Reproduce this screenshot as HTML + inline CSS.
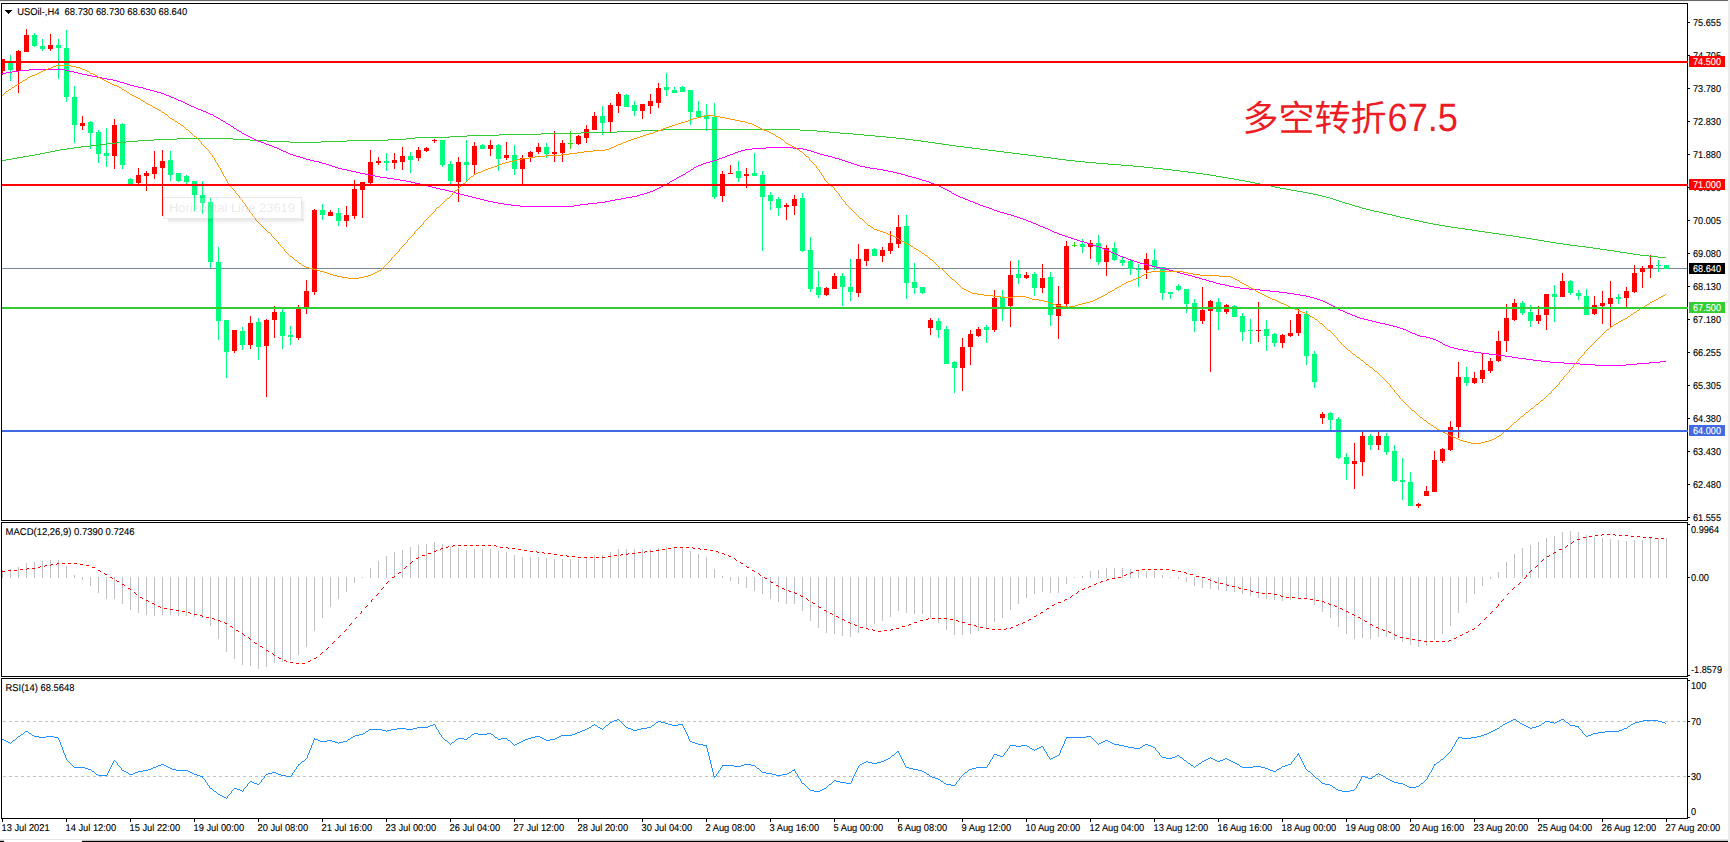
<!DOCTYPE html>
<html lang="zh"><head><meta charset="utf-8"><title>USOil-,H4</title>
<style>html,body{margin:0;padding:0;background:#fff;overflow:hidden}svg{display:block}text{font-family:"Liberation Sans","Noto Sans CJK SC",sans-serif;text-rendering:geometricPrecision;font-size:9.9px;fill:#000;stroke:#000;stroke-width:0.12px}.w{fill:#fff;stroke:#fff}.big{font-size:36px;fill:#ed1c24;stroke:none}.tip{font-size:12.5px;fill:#1a1a2a;fill-opacity:0.11;stroke:none}</style></head><body>
<svg width="1730" height="842" viewBox="0 0 1730 842">
<rect width="1730" height="842" fill="#fff"/>
<g shape-rendering="crispEdges">
<rect x="0" y="0" width="1728" height="1" fill="#696969"/>
<rect x="0" y="1" width="1728" height="1" fill="#f3f3f3"/>
<rect x="1728" y="0" width="2" height="842" fill="#ececec"/>
<rect x="0" y="839" width="1728" height="1" fill="#e4e4e4"/>
<rect x="0" y="840" width="4" height="1" fill="#c4c4c4"/><rect x="0" y="841" width="4" height="1" fill="#000"/>
<rect x="82" y="840" width="1646" height="1" fill="#c4c4c4"/><rect x="82" y="841" width="1646" height="1" fill="#000"/>
</g>
<g shape-rendering="crispEdges">
<rect x="2" y="268" width="1685" height="1" fill="#778899"/>
<path fill="#00ff7f" d="M10 55h1v26h-1zM8 63h5v7h-5zM34 33h1v14h-1zM32 35h5v11h-5zM42 39h1v12h-1zM40 46h5v3h-5zM58 39h1v40h-1zM56 45h5v3h-5zM66 30h1v72h-1zM64 48h5v49h-5zM74 86h1v57h-1zM72 97h5v28h-5zM90 121h1v28h-1zM88 122h5v11h-5zM98 130h1v33h-1zM96 132h5v22h-5zM106 128h1v39h-1zM104 153h5v3h-5zM122 123h1v46h-1zM120 124h5v41h-5zM130 178h1v8h-1zM128 179h5v7h-5zM170 151h1v30h-1zM168 160h5v15h-5zM178 173h1v9h-1zM176 173h5v8h-5zM186 175h1v9h-1zM184 176h5v6h-5zM194 181h1v30h-1zM192 181h5v14h-5zM202 181h1v33h-1zM200 195h5v8h-5zM210 198h1v70h-1zM208 202h5v60h-5zM218 247h1v93h-1zM216 262h5v59h-5zM226 320h1v58h-1zM224 320h5v32h-5zM242 327h1v23h-1zM240 331h5v14h-5zM258 318h1v42h-1zM256 322h5v25h-5zM282 308h1v41h-1zM280 312h5v24h-5zM290 326h1v19h-1zM288 335h5v2h-5zM322 204h1v16h-1zM320 210h5v5h-5zM338 208h1v18h-1zM336 213h5v8h-5zM386 153h1v18h-1zM384 161h5v2h-5zM410 152h1v21h-1zM408 156h5v4h-5zM442 140h1v27h-1zM440 140h5v25h-5zM450 161h1v23h-1zM448 164h5v17h-5zM466 140h1v42h-1zM464 162h5v3h-5zM482 144h1v5h-1zM480 145h5v4h-5zM498 144h1v27h-1zM496 145h5v14h-5zM514 145h1v30h-1zM512 155h5v14h-5zM546 143h1v15h-1zM544 147h5v7h-5zM602 106h1v29h-1zM600 116h5v7h-5zM626 94h1v13h-1zM624 95h5v12h-5zM634 101h1v15h-1zM632 105h5v6h-5zM666 73h1v23h-1zM664 87h5v3h-5zM674 87h1v6h-1zM672 90h5v3h-5zM682 86h1v6h-1zM680 87h5v5h-5zM690 90h1v35h-1zM688 90h5v22h-5zM698 101h1v16h-1zM696 111h5v6h-5zM706 104h1v27h-1zM704 115h5v4h-5zM714 103h1v96h-1zM712 117h5v80h-5zM738 161h1v21h-1zM736 171h5v7h-5zM754 153h1v23h-1zM752 173h5v3h-5zM762 171h1v80h-1zM760 175h5v22h-5zM770 192h1v18h-1zM768 195h5v6h-5zM778 197h1v19h-1zM776 199h5v9h-5zM802 193h1v59h-1zM800 198h5v53h-5zM810 237h1v55h-1zM808 250h5v39h-5zM818 271h1v27h-1zM816 287h5v8h-5zM842 273h1v33h-1zM840 276h5v11h-5zM850 259h1v42h-1zM848 287h5v5h-5zM874 248h1v8h-1zM872 249h5v7h-5zM906 215h1v84h-1zM904 226h5v57h-5zM914 263h1v31h-1zM912 282h5v6h-5zM922 287h1v7h-1zM920 287h5v6h-5zM938 318h1v20h-1zM936 321h5v9h-5zM946 326h1v38h-1zM944 329h5v35h-5zM954 361h1v32h-1zM952 362h5v6h-5zM986 325h1v18h-1zM984 327h5v3h-5zM1002 290h1v31h-1zM1000 297h5v12h-5zM1018 260h1v24h-1zM1016 274h5v4h-5zM1034 272h1v24h-1zM1032 274h5v14h-5zM1050 272h1v54h-1zM1048 277h5v38h-5zM1082 239h1v14h-1zM1080 244h5v3h-5zM1098 235h1v30h-1zM1096 243h5v19h-5zM1114 242h1v19h-1zM1112 248h5v12h-5zM1122 257h1v9h-1zM1120 260h5v3h-5zM1130 260h1v15h-1zM1128 261h5v8h-5zM1138 264h1v23h-1zM1136 269h5v1h-5zM1154 249h1v21h-1zM1152 260h5v7h-5zM1162 267h1v33h-1zM1160 267h5v26h-5zM1170 292h1v7h-1zM1168 292h5v2h-5zM1178 284h1v7h-1zM1176 286h5v4h-5zM1186 289h1v24h-1zM1184 289h5v15h-5zM1194 299h1v33h-1zM1192 303h5v18h-5zM1218 298h1v32h-1zM1216 302h5v10h-5zM1234 305h1v12h-1zM1232 306h5v11h-5zM1242 313h1v28h-1zM1240 316h5v16h-5zM1250 319h1v25h-1zM1248 330h5v1h-5zM1266 320h1v31h-1zM1264 329h5v7h-5zM1274 333h1v14h-1zM1272 334h5v9h-5zM1306 311h1v54h-1zM1304 314h5v42h-5zM1314 351h1v37h-1zM1312 354h5v28h-5zM1330 412h1v18h-1zM1328 413h5v7h-5zM1338 417h1v42h-1zM1336 419h5v39h-5zM1346 453h1v27h-1zM1344 457h5v7h-5zM1370 434h1v16h-1zM1368 436h5v9h-5zM1386 433h1v22h-1zM1384 436h5v16h-5zM1394 445h1v37h-1zM1392 451h5v30h-5zM1402 458h1v42h-1zM1400 480h5v2h-5zM1410 472h1v34h-1zM1408 482h5v24h-5zM1466 367h1v19h-1zM1464 377h5v6h-5zM1522 301h1v14h-1zM1520 303h5v10h-5zM1530 305h1v22h-1zM1528 312h5v9h-5zM1554 285h1v37h-1zM1552 294h5v3h-5zM1570 280h1v15h-1zM1568 281h5v12h-5zM1578 290h1v10h-1zM1576 293h5v3h-5zM1586 289h1v26h-1zM1584 296h5v19h-5zM1618 294h1v10h-1zM1616 297h5v2h-5zM1658 260h1v12h-1zM1656 265h5v1h-5zM1666 265h1v4h-1zM1664 265h5v4h-5z"/>
<path fill="#ff0000" d="M2 59h1v16h-1zM2 59h3v12h-3zM18 50h1v43h-1zM16 51h5v20h-5zM26 29h1v23h-1zM24 35h5v17h-5zM50 34h1v17h-1zM48 45h5v4h-5zM82 116h1v14h-1zM80 123h5v3h-5zM114 119h1v50h-1zM112 125h5v31h-5zM138 168h1v16h-1zM136 175h5v8h-5zM146 171h1v20h-1zM144 173h5v3h-5zM154 151h1v28h-1zM152 167h5v7h-5zM162 150h1v66h-1zM160 161h5v7h-5zM234 330h1v23h-1zM232 330h5v21h-5zM250 316h1v33h-1zM248 323h5v22h-5zM266 319h1v78h-1zM264 320h5v26h-5zM274 306h1v32h-1zM272 312h5v8h-5zM298 305h1v35h-1zM296 309h5v29h-5zM306 280h1v34h-1zM304 291h5v17h-5zM314 209h1v86h-1zM312 210h5v82h-5zM330 210h1v6h-1zM328 212h5v4h-5zM346 206h1v21h-1zM344 215h5v6h-5zM354 180h1v39h-1zM352 189h5v27h-5zM362 182h1v36h-1zM360 182h5v8h-5zM370 150h1v34h-1zM368 162h5v21h-5zM378 157h1v8h-1zM376 161h5v2h-5zM394 153h1v16h-1zM392 160h5v3h-5zM402 147h1v23h-1zM400 156h5v6h-5zM418 147h1v14h-1zM416 150h5v8h-5zM426 147h1v5h-1zM424 148h5v3h-5zM434 139h1v4h-1zM432 140h5v1h-5zM458 157h1v45h-1zM456 162h5v20h-5zM474 142h1v32h-1zM472 146h5v19h-5zM490 140h1v16h-1zM488 145h5v4h-5zM506 142h1v18h-1zM504 155h5v3h-5zM522 155h1v29h-1zM520 158h5v11h-5zM530 151h1v11h-1zM528 152h5v5h-5zM538 143h1v11h-1zM536 147h5v5h-5zM554 131h1v31h-1zM552 152h5v2h-5zM562 140h1v22h-1zM560 143h5v10h-5zM578 135h1v10h-1zM576 136h5v8h-5zM586 125h1v18h-1zM584 129h5v9h-5zM594 112h1v18h-1zM592 116h5v14h-5zM610 103h1v29h-1zM608 105h5v17h-5zM618 92h1v21h-1zM616 94h5v12h-5zM642 104h1v15h-1zM640 104h5v7h-5zM650 94h1v20h-1zM648 101h5v5h-5zM658 83h1v25h-1zM656 88h5v15h-5zM722 171h1v31h-1zM720 174h5v22h-5zM730 165h1v9h-1zM728 173h5v1h-5zM746 168h1v20h-1zM744 174h5v2h-5zM786 203h1v17h-1zM784 205h5v2h-5zM794 195h1v20h-1zM792 199h5v7h-5zM826 287h1v9h-1zM824 288h5v7h-5zM834 273h1v16h-1zM832 276h5v13h-5zM858 244h1v53h-1zM856 259h5v34h-5zM866 249h1v17h-1zM864 249h5v12h-5zM882 247h1v15h-1zM880 250h5v6h-5zM890 231h1v23h-1zM888 243h5v8h-5zM898 215h1v33h-1zM896 227h5v17h-5zM930 318h1v17h-1zM928 320h5v8h-5zM962 338h1v53h-1zM960 347h5v21h-5zM970 330h1v35h-1zM968 334h5v13h-5zM978 327h1v10h-1zM976 329h5v7h-5zM994 290h1v42h-1zM992 298h5v32h-5zM1010 261h1v66h-1zM1008 275h5v31h-5zM1026 272h1v7h-1zM1024 275h5v3h-5zM1042 264h1v29h-1zM1040 278h5v10h-5zM1058 286h1v53h-1zM1056 304h5v12h-5zM1066 241h1v66h-1zM1064 246h5v58h-5zM1090 240h1v19h-1zM1088 243h5v4h-5zM1106 245h1v31h-1zM1104 248h5v14h-5zM1146 253h1v26h-1zM1144 259h5v11h-5zM1202 287h1v37h-1zM1200 310h5v11h-5zM1210 300h1v72h-1zM1208 301h5v10h-5zM1226 304h1v10h-1zM1224 305h5v7h-5zM1258 302h1v40h-1zM1256 330h5v1h-5zM1282 334h1v14h-1zM1280 335h5v8h-5zM1290 320h1v17h-1zM1288 333h5v3h-5zM1298 309h1v27h-1zM1296 314h5v19h-5zM1322 412h1v12h-1zM1320 414h5v4h-5zM1354 443h1v46h-1zM1352 461h5v3h-5zM1362 432h1v44h-1zM1360 436h5v26h-5zM1378 432h1v18h-1zM1376 436h5v9h-5zM1418 503h1v5h-1zM1416 504h5v2h-5zM1426 486h1v10h-1zM1424 491h5v5h-5zM1434 451h1v41h-1zM1432 460h5v32h-5zM1442 448h1v15h-1zM1440 449h5v12h-5zM1450 421h1v30h-1zM1448 427h5v23h-5zM1458 362h1v76h-1zM1456 377h5v50h-5zM1474 372h1v12h-1zM1472 378h5v5h-5zM1482 353h1v30h-1zM1480 370h5v9h-5zM1490 358h1v15h-1zM1488 361h5v10h-5zM1498 331h1v31h-1zM1496 341h5v20h-5zM1506 304h1v48h-1zM1504 318h5v23h-5zM1514 299h1v22h-1zM1512 303h5v17h-5zM1538 306h1v18h-1zM1536 315h5v6h-5zM1546 294h1v36h-1zM1544 294h5v21h-5zM1562 273h1v24h-1zM1560 281h5v16h-5zM1594 296h1v19h-1zM1592 305h5v9h-5zM1602 291h1v33h-1zM1600 303h5v3h-5zM1610 281h1v46h-1zM1608 298h5v6h-5zM1626 287h1v20h-1zM1624 291h5v7h-5zM1634 265h1v28h-1zM1632 273h5v19h-5zM1642 266h1v22h-1zM1640 268h5v4h-5zM1650 255h1v23h-1zM1648 265h5v3h-5z"/>
<path fill="#30dd10" d="M570 131h1v18h-1zM568 143h5v1h-5zM1074 242h1v5h-1zM1072 245h5v1h-5z"/>
</g>
<g shape-rendering="crispEdges">
<path fill="#32cd32" d="M2 160h4v1h-4zM6 159h6v1h-6zM12 158h5v1h-5zM17 157h6v1h-6zM23 156h6v1h-6zM29 155h6v1h-6zM35 154h5v1h-5zM40 153h5v1h-5zM45 152h5v1h-5zM50 151h5v1h-5zM55 150h5v1h-5zM60 149h7v1h-7zM67 148h7v1h-7zM74 147h7v1h-7zM81 146h9v1h-9zM90 145h9v1h-9zM99 144h8v1h-8zM107 143h9v1h-9zM116 142h10v1h-10zM126 141h12v1h-12zM138 140h16v1h-16zM154 139h23v1h-23zM177 138h56v1h-56zM233 139h17v1h-17zM250 140h17v1h-17zM267 141h23v1h-23zM290 142h31v1h-31zM321 141h26v1h-26zM347 140h41v1h-41zM388 139h18v1h-18zM406 138h9v1h-9zM415 137h35v1h-35zM450 136h17v1h-17zM467 135h32v1h-32zM499 134h42v1h-42zM541 133h40v1h-40zM581 132h36v1h-36zM617 131h24v1h-24zM641 130h22v1h-22zM663 129h137v1h-137zM800 130h17v1h-17zM817 131h12v1h-12zM829 132h11v1h-11zM840 133h13v1h-13zM853 134h11v1h-11zM864 135h11v1h-11zM875 136h11v1h-11zM886 137h10v1h-10zM896 138h9v1h-9zM905 139h8v1h-8zM913 140h8v1h-8zM921 141h7v1h-7zM928 142h7v1h-7zM935 143h7v1h-7zM942 144h7v1h-7zM949 145h7v1h-7zM956 146h8v1h-8zM964 147h8v1h-8zM972 148h8v1h-8zM980 149h8v1h-8zM988 150h8v1h-8zM996 151h8v1h-8zM1004 152h8v1h-8zM1012 153h8v1h-8zM1020 154h8v1h-8zM1028 155h8v1h-8zM1036 156h7v1h-7zM1043 157h8v1h-8zM1051 158h7v1h-7zM1058 159h8v1h-8zM1066 160h9v1h-9zM1075 161h10v1h-10zM1085 162h11v1h-11zM1096 163h12v1h-12zM1108 164h13v1h-13zM1121 165h12v1h-12zM1133 166h11v1h-11zM1144 167h9v1h-9zM1153 168h10v1h-10zM1163 169h9v1h-9zM1172 170h8v1h-8zM1180 171h8v1h-8zM1188 172h8v1h-8zM1196 173h7v1h-7zM1203 174h7v1h-7zM1210 175h6v1h-6zM1216 176h6v1h-6zM1222 177h6v1h-6zM1228 178h6v1h-6zM1234 179h5v1h-5zM1239 180h6v1h-6zM1245 181h5v1h-5zM1250 182h5v1h-5zM1255 183h5v1h-5zM1260 184h6v1h-6zM1266 185h5v1h-5zM1271 186h4v1h-4zM1275 187h5v1h-5zM1280 188h6v1h-6zM1286 189h5v1h-5zM1291 190h6v1h-6zM1297 191h6v1h-6zM1303 192h5v1h-5zM1308 193h5v1h-5zM1313 194h5v1h-5zM1318 195h4v1h-4zM1322 196h4v1h-4zM1326 197h4v1h-4zM1330 198h3v1h-3zM1333 199h3v1h-3zM1336 200h3v1h-3zM1339 201h3v1h-3zM1342 202h3v1h-3zM1345 203h4v1h-4zM1349 204h3v1h-3zM1352 205h3v1h-3zM1355 206h4v1h-4zM1359 207h3v1h-3zM1362 208h4v1h-4zM1366 209h4v1h-4zM1370 210h4v1h-4zM1374 211h5v1h-5zM1379 212h4v1h-4zM1383 213h4v1h-4zM1387 214h5v1h-5zM1392 215h4v1h-4zM1396 216h4v1h-4zM1400 217h5v1h-5zM1405 218h5v1h-5zM1410 219h4v1h-4zM1414 220h5v1h-5zM1419 221h4v1h-4zM1423 222h5v1h-5zM1428 223h5v1h-5zM1433 224h6v1h-6zM1439 225h6v1h-6zM1445 226h6v1h-6zM1451 227h7v1h-7zM1458 228h7v1h-7zM1465 229h7v1h-7zM1472 230h6v1h-6zM1478 231h7v1h-7zM1485 232h7v1h-7zM1492 233h7v1h-7zM1499 234h7v1h-7zM1506 235h7v1h-7zM1513 236h6v1h-6zM1519 237h7v1h-7zM1526 238h6v1h-6zM1532 239h6v1h-6zM1538 240h6v1h-6zM1544 241h6v1h-6zM1550 242h6v1h-6zM1556 243h7v1h-7zM1563 244h7v1h-7zM1570 245h8v1h-8zM1578 246h8v1h-8zM1586 247h7v1h-7zM1593 248h7v1h-7zM1600 249h7v1h-7zM1607 250h7v1h-7zM1614 251h6v1h-6zM1620 252h7v1h-7zM1627 253h6v1h-6zM1633 254h7v1h-7zM1640 255h9v1h-9zM1649 256h9v1h-9zM1658 257h8v1h-8z"/>
<path fill="#ff00ff" d="M2 73h4v1h-4zM6 72h6v1h-6zM12 71h7v1h-7zM19 70h10v1h-10zM29 69h36v1h-36zM65 70h4v1h-4zM69 71h5v1h-5zM74 72h4v1h-4zM78 73h4v1h-4zM82 74h5v1h-5zM87 75h5v1h-5zM92 76h5v1h-5zM97 77h5v1h-5zM102 78h5v1h-5zM107 79h6v1h-6zM113 80h4v1h-4zM117 81h3v1h-3zM120 82h4v1h-4zM124 83h3v1h-3zM127 84h3v1h-3zM130 85h4v1h-4zM134 86h4v1h-4zM138 87h5v1h-5zM143 88h3v1h-3zM146 89h4v1h-4zM150 90h4v1h-4zM154 91h3v1h-3zM157 92h4v1h-4zM161 93h3v1h-3zM164 94h2v1h-2zM166 95h3v1h-3zM169 96h2v1h-2zM171 97h3v1h-3zM174 98h2v1h-2zM176 99h2v1h-2zM178 100h3v1h-3zM181 101h2v1h-2zM183 102h2v1h-2zM185 103h2v1h-2zM187 104h2v1h-2zM189 105h2v1h-2zM191 106h3v1h-3zM194 107h2v1h-2zM196 108h2v1h-2zM198 109h3v1h-3zM201 110h2v1h-2zM203 111h3v1h-3zM206 112h2v1h-2zM208 113h2v1h-2zM210 114h3v1h-3zM213 115h1v1h-1zM214 116h2v1h-2zM216 117h2v1h-2zM218 118h2v1h-2zM220 119h1v1h-1zM221 120h2v1h-2zM223 121h2v1h-2zM225 122h1v1h-1zM226 123h2v1h-2zM228 124h2v1h-2zM230 125h1v1h-1zM231 126h2v1h-2zM233 127h1v1h-1zM234 128h2v1h-2zM236 129h1v1h-1zM237 130h2v1h-2zM239 131h2v1h-2zM241 132h1v1h-1zM242 133h2v1h-2zM244 134h2v1h-2zM246 135h2v1h-2zM248 136h2v1h-2zM250 137h2v1h-2zM252 138h2v1h-2zM254 139h2v1h-2zM256 140h2v1h-2zM258 141h3v1h-3zM261 142h3v1h-3zM264 143h2v1h-2zM266 144h3v1h-3zM269 145h3v1h-3zM272 146h2v1h-2zM274 147h3v1h-3zM277 148h2v1h-2zM279 149h2v1h-2zM281 150h2v1h-2zM283 151h3v1h-3zM286 152h2v1h-2zM288 153h2v1h-2zM290 154h3v1h-3zM293 155h3v1h-3zM296 156h4v1h-4zM300 157h3v1h-3zM303 158h3v1h-3zM306 159h4v1h-4zM310 160h4v1h-4zM314 161h5v1h-5zM319 162h3v1h-3zM322 163h4v1h-4zM326 164h3v1h-3zM329 165h3v1h-3zM332 166h3v1h-3zM335 167h3v1h-3zM338 168h4v1h-4zM342 169h5v1h-5zM347 170h4v1h-4zM351 171h5v1h-5zM356 172h4v1h-4zM360 173h5v1h-5zM365 174h5v1h-5zM370 175h5v1h-5zM375 176h5v1h-5zM380 177h7v1h-7zM387 178h7v1h-7zM394 179h6v1h-6zM400 180h6v1h-6zM406 181h5v1h-5zM411 182h4v1h-4zM415 183h5v1h-5zM420 184h4v1h-4zM424 185h4v1h-4zM428 186h4v1h-4zM432 187h4v1h-4zM436 188h4v1h-4zM440 189h5v1h-5zM445 190h4v1h-4zM449 191h4v1h-4zM453 192h3v1h-3zM456 193h4v1h-4zM460 194h4v1h-4zM464 195h4v1h-4zM468 196h4v1h-4zM472 197h4v1h-4zM476 198h4v1h-4zM480 199h4v1h-4zM484 200h4v1h-4zM488 201h5v1h-5zM493 202h5v1h-5zM498 203h6v1h-6zM504 204h7v1h-7zM511 205h9v1h-9zM520 206h54v1h-54zM574 205h6v1h-6zM580 204h8v1h-8zM588 203h9v1h-9zM597 202h8v1h-8zM605 201h5v1h-5zM610 200h5v1h-5zM615 199h6v1h-6zM621 198h5v1h-5zM626 197h6v1h-6zM632 196h5v1h-5zM637 195h3v1h-3zM640 194h4v1h-4zM644 193h3v1h-3zM647 192h3v1h-3zM650 191h3v1h-3zM653 190h2v1h-2zM655 189h2v1h-2zM657 188h2v1h-2zM659 187h2v1h-2zM661 186h2v1h-2zM663 185h2v1h-2zM665 184h2v1h-2zM667 183h2v1h-2zM669 182h1v1h-1zM670 181h2v1h-2zM672 180h2v1h-2zM674 179h2v1h-2zM676 178h1v1h-1zM677 177h2v1h-2zM679 176h2v1h-2zM681 175h2v1h-2zM683 174h2v1h-2zM685 173h1v1h-1zM686 172h2v1h-2zM688 171h2v1h-2zM690 170h1v1h-1zM691 169h2v1h-2zM693 168h1v1h-1zM694 167h2v1h-2zM696 166h2v1h-2zM698 165h3v1h-3zM701 164h2v1h-2zM703 163h3v1h-3zM706 162h4v1h-4zM710 161h3v1h-3zM713 160h4v1h-4zM717 159h2v1h-2zM719 158h3v1h-3zM722 157h3v1h-3zM725 156h2v1h-2zM727 155h3v1h-3zM730 154h3v1h-3zM733 153h2v1h-2zM735 152h3v1h-3zM738 151h3v1h-3zM741 150h4v1h-4zM745 149h7v1h-7zM752 148h14v1h-14zM766 147h27v1h-27zM793 148h10v1h-10zM803 149h4v1h-4zM807 150h4v1h-4zM811 151h3v1h-3zM814 152h3v1h-3zM817 153h3v1h-3zM820 154h4v1h-4zM824 155h4v1h-4zM828 156h4v1h-4zM832 157h3v1h-3zM835 158h4v1h-4zM839 159h3v1h-3zM842 160h3v1h-3zM845 161h3v1h-3zM848 162h3v1h-3zM851 163h3v1h-3zM854 164h3v1h-3zM857 165h3v1h-3zM860 166h5v1h-5zM865 167h5v1h-5zM870 168h7v1h-7zM877 169h6v1h-6zM883 170h5v1h-5zM888 171h5v1h-5zM893 172h4v1h-4zM897 173h4v1h-4zM901 174h4v1h-4zM905 175h3v1h-3zM908 176h4v1h-4zM912 177h4v1h-4zM916 178h3v1h-3zM919 179h3v1h-3zM922 180h4v1h-4zM926 181h3v1h-3zM929 182h2v1h-2zM931 183h3v1h-3zM934 184h2v1h-2zM936 185h3v1h-3zM939 186h2v1h-2zM941 187h2v1h-2zM943 188h2v1h-2zM945 189h2v1h-2zM947 190h2v1h-2zM949 191h2v1h-2zM951 192h1v1h-1zM952 193h2v1h-2zM954 194h2v1h-2zM956 195h2v1h-2zM958 196h2v1h-2zM960 197h3v1h-3zM963 198h2v1h-2zM965 199h3v1h-3zM968 200h2v1h-2zM970 201h3v1h-3zM973 202h2v1h-2zM975 203h3v1h-3zM978 204h2v1h-2zM980 205h3v1h-3zM983 206h3v1h-3zM986 207h3v1h-3zM989 208h3v1h-3zM992 209h2v1h-2zM994 210h3v1h-3zM997 211h3v1h-3zM1000 212h4v1h-4zM1004 213h3v1h-3zM1007 214h4v1h-4zM1011 215h3v1h-3zM1014 216h3v1h-3zM1017 217h3v1h-3zM1020 218h3v1h-3zM1023 219h3v1h-3zM1026 220h2v1h-2zM1028 221h3v1h-3zM1031 222h2v1h-2zM1033 223h3v1h-3zM1036 224h2v1h-2zM1038 225h2v1h-2zM1040 226h3v1h-3zM1043 227h2v1h-2zM1045 228h3v1h-3zM1048 229h2v1h-2zM1050 230h2v1h-2zM1052 231h2v1h-2zM1054 232h3v1h-3zM1057 233h2v1h-2zM1059 234h3v1h-3zM1062 235h3v1h-3zM1065 236h3v1h-3zM1068 237h3v1h-3zM1071 238h3v1h-3zM1074 239h3v1h-3zM1077 240h3v1h-3zM1080 241h4v1h-4zM1084 242h3v1h-3zM1087 243h3v1h-3zM1090 244h3v1h-3zM1093 245h3v1h-3zM1096 246h3v1h-3zM1099 247h3v1h-3zM1102 248h2v1h-2zM1104 249h3v1h-3zM1107 250h2v1h-2zM1109 251h2v1h-2zM1111 252h2v1h-2zM1113 253h3v1h-3zM1116 254h2v1h-2zM1118 255h2v1h-2zM1120 256h3v1h-3zM1123 257h3v1h-3zM1126 258h2v1h-2zM1128 259h3v1h-3zM1131 260h3v1h-3zM1134 261h3v1h-3zM1137 262h3v1h-3zM1140 263h4v1h-4zM1144 264h4v1h-4zM1148 265h4v1h-4zM1152 266h4v1h-4zM1156 267h4v1h-4zM1160 268h5v1h-5zM1165 269h4v1h-4zM1169 270h4v1h-4zM1173 271h4v1h-4zM1177 272h3v1h-3zM1180 273h4v1h-4zM1184 274h4v1h-4zM1188 275h4v1h-4zM1192 276h3v1h-3zM1195 277h4v1h-4zM1199 278h3v1h-3zM1202 279h4v1h-4zM1206 280h3v1h-3zM1209 281h4v1h-4zM1213 282h3v1h-3zM1216 283h4v1h-4zM1220 284h5v1h-5zM1225 285h4v1h-4zM1229 286h5v1h-5zM1234 287h6v1h-6zM1240 288h9v1h-9zM1249 289h11v1h-11zM1260 290h10v1h-10zM1270 291h9v1h-9zM1279 292h8v1h-8zM1287 293h7v1h-7zM1294 294h6v1h-6zM1300 295h6v1h-6zM1306 296h4v1h-4zM1310 297h4v1h-4zM1314 298h3v1h-3zM1317 299h3v1h-3zM1320 300h3v1h-3zM1323 301h2v1h-2zM1325 302h2v1h-2zM1327 303h2v1h-2zM1329 304h2v1h-2zM1331 305h2v1h-2zM1333 306h2v1h-2zM1335 307h1v1h-1zM1336 308h2v1h-2zM1338 309h2v1h-2zM1340 310h3v1h-3zM1343 311h2v1h-2zM1345 312h2v1h-2zM1347 313h3v1h-3zM1350 314h2v1h-2zM1352 315h3v1h-3zM1355 316h2v1h-2zM1357 317h3v1h-3zM1360 318h4v1h-4zM1364 319h4v1h-4zM1368 320h4v1h-4zM1372 321h4v1h-4zM1376 322h4v1h-4zM1380 323h5v1h-5zM1385 324h4v1h-4zM1389 325h4v1h-4zM1393 326h4v1h-4zM1397 327h3v1h-3zM1400 328h3v1h-3zM1403 329h3v1h-3zM1406 330h2v1h-2zM1408 331h2v1h-2zM1410 332h2v1h-2zM1412 333h3v1h-3zM1415 334h2v1h-2zM1417 335h3v1h-3zM1420 336h6v1h-6zM1426 337h4v1h-4zM1430 338h3v1h-3zM1433 339h3v1h-3zM1436 340h2v1h-2zM1438 341h2v1h-2zM1440 342h2v1h-2zM1442 343h1v1h-1zM1443 344h2v1h-2zM1445 345h3v1h-3zM1448 346h2v1h-2zM1450 347h4v1h-4zM1454 348h4v1h-4zM1458 349h5v1h-5zM1463 350h5v1h-5zM1468 351h6v1h-6zM1474 352h7v1h-7zM1481 353h8v1h-8zM1489 354h9v1h-9zM1498 355h7v1h-7zM1505 356h7v1h-7zM1512 357h6v1h-6zM1518 358h8v1h-8zM1526 359h7v1h-7zM1533 360h8v1h-8zM1541 361h9v1h-9zM1550 362h14v1h-14zM1564 363h16v1h-16zM1580 364h15v1h-15zM1595 365h31v1h-31zM1626 364h11v1h-11zM1637 363h12v1h-12zM1649 362h11v1h-11zM1660 361h6v1h-6z"/>
<path fill="#ff9900" d="M2 95h1v1h-1zM3 94h1v1h-1zM4 93h1v1h-1zM5 92h1v1h-1zM6 91h2v1h-2zM8 90h1v1h-1zM9 89h2v1h-2zM11 88h1v1h-1zM12 87h2v1h-2zM14 86h1v1h-1zM15 85h2v1h-2zM17 84h2v1h-2zM19 83h1v1h-1zM20 82h2v1h-2zM22 81h1v1h-1zM23 80h2v1h-2zM25 79h2v1h-2zM27 78h1v1h-1zM28 77h2v1h-2zM30 76h2v1h-2zM32 75h3v1h-3zM35 74h2v1h-2zM37 73h2v1h-2zM39 72h2v1h-2zM41 71h2v1h-2zM43 70h3v1h-3zM46 69h2v1h-2zM48 68h3v1h-3zM51 67h2v1h-2zM53 66h3v1h-3zM56 65h15v1h-15zM71 66h5v1h-5zM76 67h4v1h-4zM80 68h2v1h-2zM82 69h3v1h-3zM85 70h2v1h-2zM87 71h2v1h-2zM89 72h1v1h-1zM90 73h3v1h-3zM93 74h2v1h-2zM95 75h2v1h-2zM97 76h1v1h-1zM98 77h2v1h-2zM100 78h2v1h-2zM102 79h2v1h-2zM104 80h2v1h-2zM106 81h2v1h-2zM108 82h2v1h-2zM110 83h2v1h-2zM112 84h2v1h-2zM114 85h3v1h-3zM117 86h2v1h-2zM119 87h2v1h-2zM121 88h1v1h-1zM122 89h2v1h-2zM124 90h2v1h-2zM126 91h1v1h-1zM127 92h2v1h-2zM129 93h1v1h-1zM130 94h2v1h-2zM132 95h2v1h-2zM134 96h2v1h-2zM136 97h2v1h-2zM138 98h2v1h-2zM140 99h1v1h-1zM141 100h2v1h-2zM143 101h2v1h-2zM145 102h1v1h-1zM146 103h2v1h-2zM148 104h2v1h-2zM150 105h2v1h-2zM152 106h1v1h-1zM153 107h2v1h-2zM155 108h2v1h-2zM157 109h2v1h-2zM159 110h2v1h-2zM161 111h1v1h-1zM162 112h2v1h-2zM164 113h1v1h-1zM165 114h2v1h-2zM167 115h1v1h-1zM168 116h1v1h-1zM169 117h1v1h-1zM170 118h2v1h-2zM172 119h2v1h-2zM174 120h1v1h-1zM175 121h2v1h-2zM177 122h1v1h-1zM178 123h2v1h-2zM180 124h1v1h-1zM181 125h2v1h-2zM183 126h1v1h-1zM184 127h1v1h-1zM185 128h1v1h-1zM186 129h2v1h-2zM188 130h1v1h-1zM189 131h1v1h-1zM190 132h1v1h-1zM191 133h1v1h-1zM192 134h1v1h-1zM193 135h1v1h-1zM194 136h2v1h-2zM196 137h1v1h-1zM197 138h1v1h-1zM198 139h1v1h-1zM199 140h1v1h-1zM200 141h1v1h-1zM201 142h1v2h-1zM202 144h1v1h-1zM203 145h1v1h-1zM204 146h1v1h-1zM205 147h1v1h-1zM206 148h1v1h-1zM207 149h1v1h-1zM208 150h1v1h-1zM209 151h1v2h-1zM210 153h1v1h-1zM211 154h1v1h-1zM212 155h1v2h-1zM213 157h1v1h-1zM214 158h1v2h-1zM215 160h1v2h-1zM216 162h1v1h-1zM217 163h1v2h-1zM218 165h1v2h-1zM219 167h1v1h-1zM220 168h1v2h-1zM221 170h1v2h-1zM222 172h1v2h-1zM223 174h1v2h-1zM224 176h1v1h-1zM225 177h1v2h-1zM226 179h1v2h-1zM227 181h1v2h-1zM228 183h1v1h-1zM229 184h1v1h-1zM230 185h1v2h-1zM231 187h1v1h-1zM232 188h1v1h-1zM233 189h1v1h-1zM234 190h1v1h-1zM235 191h1v2h-1zM236 193h1v1h-1zM237 194h1v1h-1zM238 195h1v1h-1zM239 196h1v2h-1zM240 198h1v1h-1zM241 199h1v1h-1zM242 200h1v2h-1zM243 202h1v1h-1zM244 203h1v1h-1zM245 204h1v2h-1zM246 206h1v1h-1zM247 207h1v2h-1zM248 209h1v1h-1zM249 210h1v2h-1zM250 212h1v1h-1zM251 213h1v1h-1zM252 214h1v2h-1zM253 216h1v1h-1zM254 217h1v1h-1zM255 218h1v2h-1zM256 220h1v1h-1zM257 221h1v1h-1zM258 222h1v1h-1zM259 223h1v1h-1zM260 224h1v1h-1zM261 225h1v1h-1zM262 226h1v1h-1zM263 227h1v1h-1zM264 228h1v1h-1zM265 229h1v1h-1zM266 230h1v1h-1zM267 231h1v1h-1zM268 232h2v1h-2zM270 233h1v1h-1zM271 234h1v2h-1zM272 236h1v1h-1zM273 237h1v1h-1zM274 238h1v1h-1zM275 239h1v1h-1zM276 240h1v1h-1zM277 241h1v1h-1zM278 242h1v2h-1zM279 244h1v1h-1zM280 245h1v1h-1zM281 246h1v1h-1zM282 247h1v1h-1zM283 248h1v1h-1zM284 249h1v2h-1zM285 251h1v1h-1zM286 252h1v1h-1zM287 253h1v1h-1zM288 254h1v1h-1zM289 255h1v1h-1zM290 256h2v1h-2zM292 257h1v1h-1zM293 258h1v1h-1zM294 259h1v1h-1zM295 260h2v1h-2zM297 261h1v1h-1zM298 262h1v1h-1zM299 263h2v1h-2zM301 264h1v1h-1zM302 265h2v1h-2zM304 266h2v1h-2zM306 267h3v1h-3zM309 268h4v1h-4zM313 269h4v1h-4zM317 270h3v1h-3zM320 271h4v1h-4zM324 272h3v1h-3zM327 273h3v1h-3zM330 274h3v1h-3zM333 275h4v1h-4zM337 276h5v1h-5zM342 277h6v1h-6zM348 278h11v1h-11zM359 277h5v1h-5zM364 276h4v1h-4zM368 275h3v1h-3zM371 274h2v1h-2zM373 273h2v1h-2zM375 272h2v1h-2zM377 271h2v1h-2zM379 270h2v1h-2zM381 269h1v1h-1zM382 268h1v1h-1zM383 267h1v1h-1zM384 266h1v1h-1zM385 265h1v1h-1zM386 264h1v1h-1zM387 263h1v1h-1zM388 262h1v1h-1zM389 261h1v1h-1zM390 260h1v1h-1zM391 258h1v2h-1zM392 257h1v1h-1zM393 256h1v1h-1zM394 255h1v1h-1zM395 254h1v1h-1zM396 253h1v1h-1zM397 252h1v1h-1zM398 251h1v1h-1zM399 249h1v2h-1zM400 248h1v1h-1zM401 247h1v1h-1zM402 246h1v1h-1zM403 245h1v1h-1zM404 244h1v1h-1zM405 243h1v1h-1zM406 242h1v1h-1zM407 240h1v2h-1zM408 239h1v1h-1zM409 238h1v1h-1zM410 237h1v1h-1zM411 236h1v1h-1zM412 235h1v1h-1zM413 234h1v1h-1zM414 232h1v2h-1zM415 231h1v1h-1zM416 230h1v1h-1zM417 229h1v1h-1zM418 228h1v1h-1zM419 227h1v1h-1zM420 226h1v1h-1zM421 225h1v1h-1zM422 224h1v1h-1zM423 222h1v2h-1zM424 221h1v1h-1zM425 220h1v1h-1zM426 219h1v1h-1zM427 218h1v1h-1zM428 217h1v1h-1zM429 216h1v1h-1zM430 215h1v1h-1zM431 214h1v1h-1zM432 213h1v1h-1zM433 212h1v1h-1zM434 211h1v1h-1zM435 209h1v2h-1zM436 208h1v1h-1zM437 207h2v1h-2zM439 206h1v1h-1zM440 205h1v1h-1zM441 204h1v1h-1zM442 203h1v1h-1zM443 202h1v1h-1zM444 201h1v1h-1zM445 200h1v1h-1zM446 199h1v1h-1zM447 198h2v1h-2zM449 197h1v1h-1zM450 196h1v1h-1zM451 195h1v1h-1zM452 193h1v2h-1zM453 192h1v1h-1zM454 191h1v1h-1zM455 190h2v1h-2zM457 189h1v1h-1zM458 188h1v1h-1zM459 187h1v1h-1zM460 186h1v1h-1zM461 185h1v1h-1zM462 184h1v1h-1zM463 183h2v1h-2zM465 182h1v1h-1zM466 181h1v1h-1zM467 180h1v1h-1zM468 179h1v1h-1zM469 178h1v1h-1zM470 177h1v1h-1zM471 176h2v1h-2zM473 175h1v1h-1zM474 174h2v1h-2zM476 173h2v1h-2zM478 172h3v1h-3zM481 171h2v1h-2zM483 170h2v1h-2zM485 169h3v1h-3zM488 168h3v1h-3zM491 167h3v1h-3zM494 166h3v1h-3zM497 165h2v1h-2zM499 164h3v1h-3zM502 163h3v1h-3zM505 162h4v1h-4zM509 161h4v1h-4zM513 160h4v1h-4zM517 159h5v1h-5zM522 158h7v1h-7zM529 157h6v1h-6zM535 156h10v1h-10zM545 155h16v1h-16zM561 154h8v1h-8zM569 153h8v1h-8zM577 152h7v1h-7zM584 151h9v1h-9zM593 150h12v1h-12zM605 149h4v1h-4zM609 148h2v1h-2zM611 147h3v1h-3zM614 146h2v1h-2zM616 145h2v1h-2zM618 144h3v1h-3zM621 143h2v1h-2zM623 142h3v1h-3zM626 141h2v1h-2zM628 140h3v1h-3zM631 139h3v1h-3zM634 138h3v1h-3zM637 137h3v1h-3zM640 136h3v1h-3zM643 135h3v1h-3zM646 134h3v1h-3zM649 133h4v1h-4zM653 132h2v1h-2zM655 131h3v1h-3zM658 130h3v1h-3zM661 129h2v1h-2zM663 128h3v1h-3zM666 127h3v1h-3zM669 126h3v1h-3zM672 125h3v1h-3zM675 124h3v1h-3zM678 123h3v1h-3zM681 122h4v1h-4zM685 121h3v1h-3zM688 120h2v1h-2zM690 119h3v1h-3zM693 118h4v1h-4zM697 117h4v1h-4zM701 116h4v1h-4zM705 115h9v1h-9zM714 116h6v1h-6zM720 117h5v1h-5zM725 118h5v1h-5zM730 119h5v1h-5zM735 120h5v1h-5zM740 121h5v1h-5zM745 122h3v1h-3zM748 123h4v1h-4zM752 124h2v1h-2zM754 125h2v1h-2zM756 126h2v1h-2zM758 127h2v1h-2zM760 128h2v1h-2zM762 129h2v1h-2zM764 130h3v1h-3zM767 131h2v1h-2zM769 132h2v1h-2zM771 133h2v1h-2zM773 134h2v1h-2zM775 135h1v1h-1zM776 136h2v1h-2zM778 137h2v1h-2zM780 138h1v1h-1zM781 139h2v1h-2zM783 140h1v1h-1zM784 141h1v1h-1zM785 142h1v1h-1zM786 143h2v1h-2zM788 144h2v1h-2zM790 145h2v1h-2zM792 146h2v1h-2zM794 147h2v1h-2zM796 148h1v1h-1zM797 149h2v1h-2zM799 150h1v1h-1zM800 151h2v1h-2zM802 152h1v1h-1zM803 153h1v1h-1zM804 154h1v1h-1zM805 155h1v1h-1zM806 156h2v1h-2zM808 157h1v1h-1zM809 158h1v2h-1zM810 160h1v1h-1zM811 161h1v1h-1zM812 162h1v1h-1zM813 163h1v1h-1zM814 164h1v1h-1zM815 165h1v1h-1zM816 166h1v2h-1zM817 168h1v1h-1zM818 169h1v1h-1zM819 170h1v2h-1zM820 172h1v1h-1zM821 173h1v2h-1zM822 175h1v1h-1zM823 176h1v2h-1zM824 178h1v2h-1zM825 180h1v1h-1zM826 181h1v1h-1zM827 182h1v1h-1zM828 183h1v1h-1zM829 184h1v1h-1zM830 185h1v1h-1zM831 186h2v1h-2zM833 187h1v1h-1zM834 188h1v2h-1zM835 190h1v1h-1zM836 191h1v1h-1zM837 192h1v1h-1zM838 193h1v1h-1zM839 194h1v2h-1zM840 196h1v1h-1zM841 197h1v2h-1zM842 199h1v1h-1zM843 200h1v1h-1zM844 201h1v1h-1zM845 202h1v2h-1zM846 204h1v1h-1zM847 205h1v1h-1zM848 206h1v1h-1zM849 207h1v1h-1zM850 208h1v1h-1zM851 209h1v1h-1zM852 210h1v1h-1zM853 211h1v1h-1zM854 212h1v1h-1zM855 213h1v1h-1zM856 214h1v1h-1zM857 215h1v1h-1zM858 216h1v1h-1zM859 217h1v1h-1zM860 218h2v1h-2zM862 219h1v1h-1zM863 220h1v1h-1zM864 221h1v1h-1zM865 222h1v1h-1zM866 223h1v1h-1zM867 224h1v1h-1zM868 225h2v1h-2zM870 226h1v1h-1zM871 227h2v1h-2zM873 228h1v1h-1zM874 229h3v1h-3zM877 230h3v1h-3zM880 231h3v1h-3zM883 232h3v1h-3zM886 233h2v1h-2zM888 234h3v1h-3zM891 235h2v1h-2zM893 236h2v1h-2zM895 237h2v1h-2zM897 238h2v1h-2zM899 239h1v1h-1zM900 240h2v1h-2zM902 241h2v1h-2zM904 242h2v1h-2zM906 243h2v1h-2zM908 244h2v1h-2zM910 245h1v1h-1zM911 246h2v1h-2zM913 247h1v1h-1zM914 248h2v1h-2zM916 249h2v1h-2zM918 250h1v1h-1zM919 251h2v1h-2zM921 252h1v1h-1zM922 253h2v1h-2zM924 254h1v1h-1zM925 255h2v1h-2zM927 256h1v1h-1zM928 257h1v1h-1zM929 258h1v1h-1zM930 259h2v1h-2zM932 260h1v1h-1zM933 261h1v1h-1zM934 262h1v1h-1zM935 263h1v1h-1zM936 264h1v1h-1zM937 265h1v1h-1zM938 266h1v1h-1zM939 267h1v1h-1zM940 268h2v1h-2zM942 269h1v1h-1zM943 270h1v1h-1zM944 271h1v1h-1zM945 272h1v1h-1zM946 273h1v1h-1zM947 274h1v1h-1zM948 275h1v1h-1zM949 276h1v1h-1zM950 277h1v1h-1zM951 278h1v1h-1zM952 279h2v1h-2zM954 280h1v1h-1zM955 281h1v1h-1zM956 282h1v1h-1zM957 283h1v1h-1zM958 284h1v1h-1zM959 285h1v1h-1zM960 286h1v1h-1zM961 287h1v1h-1zM962 288h2v1h-2zM964 289h2v1h-2zM966 290h2v1h-2zM968 291h2v1h-2zM970 292h2v1h-2zM972 293h5v1h-5zM977 294h7v1h-7zM984 295h9v1h-9zM993 296h8v1h-8zM1001 297h12v1h-12zM1013 296h13v1h-13zM1026 297h3v1h-3zM1029 298h3v1h-3zM1032 299h7v1h-7zM1039 300h5v1h-5zM1044 301h4v1h-4zM1048 302h2v1h-2zM1050 303h3v1h-3zM1053 304h3v1h-3zM1056 305h5v1h-5zM1061 306h7v1h-7zM1068 307h1v1h-1zM1069 306h6v1h-6zM1075 305h3v1h-3zM1078 304h4v1h-4zM1082 303h4v1h-4zM1086 302h4v1h-4zM1090 301h3v1h-3zM1093 300h2v1h-2zM1095 299h2v1h-2zM1097 298h2v1h-2zM1099 297h2v1h-2zM1101 296h2v1h-2zM1103 295h2v1h-2zM1105 294h2v1h-2zM1107 293h1v1h-1zM1108 292h2v1h-2zM1110 291h2v1h-2zM1112 290h2v1h-2zM1114 289h1v1h-1zM1115 288h2v1h-2zM1117 287h2v1h-2zM1119 286h2v1h-2zM1121 285h1v1h-1zM1122 284h2v1h-2zM1124 283h2v1h-2zM1126 282h2v1h-2zM1128 281h3v1h-3zM1131 280h2v1h-2zM1133 279h3v1h-3zM1136 278h2v1h-2zM1138 277h3v1h-3zM1141 276h1v1h-1zM1142 275h2v1h-2zM1144 274h2v1h-2zM1146 273h1v1h-1zM1147 272h4v1h-4zM1151 271h32v1h-32zM1183 272h5v1h-5zM1188 273h5v1h-5zM1193 274h7v1h-7zM1200 275h19v1h-19zM1219 276h12v1h-12zM1231 277h2v1h-2zM1233 278h2v1h-2zM1235 279h2v1h-2zM1237 280h2v1h-2zM1239 281h1v1h-1zM1240 282h2v1h-2zM1242 283h2v1h-2zM1244 284h2v1h-2zM1246 285h2v1h-2zM1248 286h1v1h-1zM1249 287h2v1h-2zM1251 288h2v1h-2zM1253 289h2v1h-2zM1255 290h1v1h-1zM1256 291h2v1h-2zM1258 292h2v1h-2zM1260 293h2v1h-2zM1262 294h2v1h-2zM1264 295h2v1h-2zM1266 296h2v1h-2zM1268 297h2v1h-2zM1270 298h2v1h-2zM1272 299h3v1h-3zM1275 300h2v1h-2zM1277 301h2v1h-2zM1279 302h2v1h-2zM1281 303h3v1h-3zM1284 304h2v1h-2zM1286 305h2v1h-2zM1288 306h2v1h-2zM1290 307h3v1h-3zM1293 308h2v1h-2zM1295 309h3v1h-3zM1298 310h2v1h-2zM1300 311h2v1h-2zM1302 312h3v1h-3zM1305 313h2v1h-2zM1307 314h2v1h-2zM1309 315h1v1h-1zM1310 316h2v1h-2zM1312 317h2v1h-2zM1314 318h1v1h-1zM1315 319h2v1h-2zM1317 320h1v1h-1zM1318 321h1v1h-1zM1319 322h1v1h-1zM1320 323h2v1h-2zM1322 324h1v1h-1zM1323 325h1v1h-1zM1324 326h1v1h-1zM1325 327h1v1h-1zM1326 328h1v1h-1zM1327 329h1v1h-1zM1328 330h2v1h-2zM1330 331h1v1h-1zM1331 332h1v1h-1zM1332 333h1v1h-1zM1333 334h1v1h-1zM1334 335h1v1h-1zM1335 336h1v1h-1zM1336 337h1v1h-1zM1337 338h1v2h-1zM1338 340h1v1h-1zM1339 341h1v1h-1zM1340 342h1v1h-1zM1341 343h1v1h-1zM1342 344h1v1h-1zM1343 345h1v1h-1zM1344 346h1v1h-1zM1345 347h1v1h-1zM1346 348h1v1h-1zM1347 349h1v1h-1zM1348 350h2v1h-2zM1350 351h1v1h-1zM1351 352h1v1h-1zM1352 353h1v1h-1zM1353 354h2v1h-2zM1355 355h1v1h-1zM1356 356h1v1h-1zM1357 357h2v1h-2zM1359 358h1v1h-1zM1360 359h1v1h-1zM1361 360h2v1h-2zM1363 361h1v1h-1zM1364 362h1v1h-1zM1365 363h1v1h-1zM1366 364h2v1h-2zM1368 365h1v1h-1zM1369 366h1v1h-1zM1370 367h2v1h-2zM1372 368h1v1h-1zM1373 369h1v1h-1zM1374 370h1v1h-1zM1375 371h2v1h-2zM1377 372h1v1h-1zM1378 373h1v1h-1zM1379 374h1v1h-1zM1380 375h1v1h-1zM1381 376h1v1h-1zM1382 377h1v1h-1zM1383 378h1v1h-1zM1384 379h1v1h-1zM1385 380h1v1h-1zM1386 381h1v1h-1zM1387 382h1v1h-1zM1388 383h1v1h-1zM1389 384h1v1h-1zM1390 385h1v2h-1zM1391 387h1v1h-1zM1392 388h1v1h-1zM1393 389h1v1h-1zM1394 390h1v2h-1zM1395 392h1v1h-1zM1396 393h1v1h-1zM1397 394h1v1h-1zM1398 395h1v1h-1zM1399 396h1v2h-1zM1400 398h1v1h-1zM1401 399h1v1h-1zM1402 400h1v1h-1zM1403 401h1v1h-1zM1404 402h1v1h-1zM1405 403h1v1h-1zM1406 404h1v1h-1zM1407 405h1v1h-1zM1408 406h1v1h-1zM1409 407h1v1h-1zM1410 408h1v1h-1zM1411 409h1v1h-1zM1412 410h2v1h-2zM1414 411h1v1h-1zM1415 412h1v1h-1zM1416 413h1v1h-1zM1417 414h1v1h-1zM1418 415h1v1h-1zM1419 416h1v1h-1zM1420 417h2v1h-2zM1422 418h1v1h-1zM1423 419h1v1h-1zM1424 420h2v1h-2zM1426 421h1v1h-1zM1427 422h1v1h-1zM1428 423h2v1h-2zM1430 424h1v1h-1zM1431 425h2v1h-2zM1433 426h1v1h-1zM1434 427h2v1h-2zM1436 428h1v1h-1zM1437 429h2v1h-2zM1439 430h2v1h-2zM1441 431h2v1h-2zM1443 432h2v1h-2zM1445 433h2v1h-2zM1447 434h2v1h-2zM1449 435h2v1h-2zM1451 436h2v1h-2zM1453 437h3v1h-3zM1456 438h2v1h-2zM1458 439h2v1h-2zM1460 440h3v1h-3zM1463 441h4v1h-4zM1467 442h4v1h-4zM1471 443h10v1h-10zM1481 442h4v1h-4zM1485 441h4v1h-4zM1489 440h3v1h-3zM1492 439h2v1h-2zM1494 438h2v1h-2zM1496 437h1v1h-1zM1497 436h2v1h-2zM1499 435h2v1h-2zM1501 434h1v1h-1zM1502 433h1v1h-1zM1503 432h1v1h-1zM1504 431h1v1h-1zM1505 430h1v1h-1zM1506 429h2v1h-2zM1508 428h1v1h-1zM1509 427h1v1h-1zM1510 426h1v1h-1zM1511 425h1v1h-1zM1512 424h1v1h-1zM1513 423h1v1h-1zM1514 422h2v1h-2zM1516 421h1v1h-1zM1517 420h1v1h-1zM1518 419h1v1h-1zM1519 418h1v1h-1zM1520 417h1v1h-1zM1521 416h2v1h-2zM1523 415h1v1h-1zM1524 414h1v1h-1zM1525 413h1v1h-1zM1526 412h2v1h-2zM1528 411h1v1h-1zM1529 410h1v1h-1zM1530 409h1v1h-1zM1531 408h2v1h-2zM1533 407h1v1h-1zM1534 406h1v1h-1zM1535 405h1v1h-1zM1536 404h2v1h-2zM1538 403h1v1h-1zM1539 402h1v1h-1zM1540 401h1v1h-1zM1541 400h2v1h-2zM1543 399h1v1h-1zM1544 398h1v1h-1zM1545 397h1v1h-1zM1546 396h1v1h-1zM1547 395h1v1h-1zM1548 394h1v1h-1zM1549 393h2v1h-2zM1551 391h1v2h-1zM1552 390h1v1h-1zM1553 389h1v1h-1zM1554 388h1v1h-1zM1555 387h1v1h-1zM1556 386h1v1h-1zM1557 385h1v1h-1zM1558 384h1v1h-1zM1559 382h1v2h-1zM1560 381h1v1h-1zM1561 380h1v1h-1zM1562 379h1v1h-1zM1563 377h1v2h-1zM1564 376h1v1h-1zM1565 375h1v1h-1zM1566 374h1v1h-1zM1567 373h1v1h-1zM1568 372h1v1h-1zM1569 370h1v2h-1zM1570 369h1v1h-1zM1571 368h1v1h-1zM1572 367h1v1h-1zM1573 365h1v2h-1zM1574 364h1v1h-1zM1575 363h1v1h-1zM1576 362h1v1h-1zM1577 361h1v1h-1zM1578 359h1v2h-1zM1579 358h1v1h-1zM1580 357h1v1h-1zM1581 356h1v1h-1zM1582 355h1v1h-1zM1583 354h1v1h-1zM1584 352h1v2h-1zM1585 351h1v1h-1zM1586 350h1v1h-1zM1587 349h1v1h-1zM1588 348h1v1h-1zM1589 347h1v1h-1zM1590 346h1v1h-1zM1591 345h1v1h-1zM1592 344h1v1h-1zM1593 343h1v1h-1zM1594 342h1v1h-1zM1595 341h1v1h-1zM1596 340h1v1h-1zM1597 339h1v1h-1zM1598 338h1v1h-1zM1599 337h1v1h-1zM1600 336h1v1h-1zM1601 335h1v1h-1zM1602 334h1v1h-1zM1603 333h1v1h-1zM1604 332h1v1h-1zM1605 331h1v1h-1zM1606 330h1v1h-1zM1607 329h2v1h-2zM1609 328h1v1h-1zM1610 327h1v1h-1zM1611 326h2v1h-2zM1613 325h1v1h-1zM1614 324h2v1h-2zM1616 323h2v1h-2zM1618 322h1v1h-1zM1619 321h2v1h-2zM1621 320h2v1h-2zM1623 319h2v1h-2zM1625 318h2v1h-2zM1627 317h1v1h-1zM1628 316h2v1h-2zM1630 315h1v1h-1zM1631 314h2v1h-2zM1633 313h1v1h-1zM1634 312h2v1h-2zM1636 311h1v1h-1zM1637 310h2v1h-2zM1639 309h1v1h-1zM1640 308h2v1h-2zM1642 307h2v1h-2zM1644 306h1v1h-1zM1645 305h2v1h-2zM1647 304h2v1h-2zM1649 303h1v1h-1zM1650 302h2v1h-2zM1652 301h2v1h-2zM1654 300h2v1h-2zM1656 299h2v1h-2zM1658 298h1v1h-1zM1659 297h2v1h-2zM1661 296h2v1h-2zM1663 295h2v1h-2zM1665 294h1v1h-1z"/>
</g>
<defs><linearGradient id="sb" x1="0" y1="0" x2="0" y2="1"><stop offset="0" stop-color="#000" stop-opacity="0.10"/><stop offset="1" stop-color="#000" stop-opacity="0"/></linearGradient><linearGradient id="sr" x1="0" y1="0" x2="1" y2="0"><stop offset="0" stop-color="#000" stop-opacity="0.08"/><stop offset="1" stop-color="#000" stop-opacity="0"/></linearGradient></defs>
<rect x="168" y="219" width="136" height="5" fill="url(#sb)"/><rect x="302" y="201" width="4" height="19" fill="url(#sr)"/>
<rect x="163.5" y="197.5" width="138" height="21" fill="#fff" fill-opacity="0.18" stroke="#000" stroke-opacity="0.09" shape-rendering="crispEdges"/>
<text class="tip" x="169" y="211.5" textLength="126" lengthAdjust="spacingAndGlyphs">Horizontal Line 23619</text>
<text class="big" x="1242.5" y="130.5">多空转折</text>
<text class="big" x="1387.5" y="130.5" style="font-size:39.5px" textLength="70.5" lengthAdjust="spacingAndGlyphs">67.5</text>
<g shape-rendering="crispEdges">
<path fill="#c0c0c0" d="M2 570h1v8h-1zM10 569h1v9h-1zM18 567h1v11h-1zM26 563h1v15h-1zM34 562h1v16h-1zM42 561h1v17h-1zM50 560h1v18h-1zM58 560h1v18h-1zM66 566h1v12h-1zM74 575h1v3h-1zM82 577h1v3h-1zM90 577h1v9h-1zM98 577h1v16h-1zM106 577h1v22h-1zM114 577h1v22h-1zM122 577h1v27h-1zM130 577h1v33h-1zM138 577h1v36h-1zM146 577h1v38h-1zM154 577h1v39h-1zM162 577h1v38h-1zM170 577h1v38h-1zM178 577h1v39h-1zM186 577h1v39h-1zM194 577h1v40h-1zM202 577h1v41h-1zM210 577h1v49h-1zM218 577h1v62h-1zM226 577h1v75h-1zM234 577h1v82h-1zM242 577h1v88h-1zM250 577h1v89h-1zM258 577h1v92h-1zM266 577h1v90h-1zM274 577h1v86h-1zM282 577h1v85h-1zM290 577h1v83h-1zM298 577h1v78h-1zM306 577h1v70h-1zM314 577h1v54h-1zM322 577h1v41h-1zM330 577h1v30h-1zM338 577h1v22h-1zM346 577h1v15h-1zM354 577h1v6h-1zM362 577h1v1h-1zM370 568h1v10h-1zM378 561h1v17h-1zM386 556h1v22h-1zM394 552h1v26h-1zM402 550h1v28h-1zM410 547h1v31h-1zM418 545h1v33h-1zM426 544h1v34h-1zM434 542h1v36h-1zM442 544h1v34h-1zM450 547h1v31h-1zM458 548h1v30h-1zM466 550h1v28h-1zM474 549h1v29h-1zM482 549h1v29h-1zM490 549h1v29h-1zM498 551h1v27h-1zM506 552h1v26h-1zM514 555h1v23h-1zM522 557h1v21h-1zM530 557h1v21h-1zM538 557h1v21h-1zM546 558h1v20h-1zM554 559h1v19h-1zM562 559h1v19h-1zM570 559h1v19h-1zM578 559h1v19h-1zM586 558h1v20h-1zM594 555h1v23h-1zM602 555h1v23h-1zM610 552h1v26h-1zM618 549h1v29h-1zM626 549h1v29h-1zM634 549h1v29h-1zM642 549h1v29h-1zM650 549h1v29h-1zM658 548h1v30h-1zM666 547h1v31h-1zM674 547h1v31h-1zM682 547h1v31h-1zM690 551h1v27h-1zM698 554h1v24h-1zM706 557h1v21h-1zM714 569h1v9h-1zM722 576h1v2h-1zM730 577h1v4h-1zM738 577h1v7h-1zM746 577h1v11h-1zM754 577h1v14h-1zM762 577h1v17h-1zM770 577h1v22h-1zM778 577h1v25h-1zM786 577h1v27h-1zM794 577h1v27h-1zM802 577h1v34h-1zM810 577h1v44h-1zM818 577h1v51h-1zM826 577h1v56h-1zM834 577h1v57h-1zM842 577h1v59h-1zM850 577h1v60h-1zM858 577h1v56h-1zM866 577h1v51h-1zM874 577h1v47h-1zM882 577h1v44h-1zM890 577h1v40h-1zM898 577h1v34h-1zM906 577h1v36h-1zM914 577h1v37h-1zM922 577h1v37h-1zM930 577h1v41h-1zM938 577h1v46h-1zM946 577h1v53h-1zM954 577h1v58h-1zM962 577h1v58h-1zM970 577h1v57h-1zM978 577h1v54h-1zM986 577h1v51h-1zM994 577h1v45h-1zM1002 577h1v41h-1zM1010 577h1v33h-1zM1018 577h1v27h-1zM1026 577h1v21h-1zM1034 577h1v17h-1zM1042 577h1v15h-1zM1050 577h1v16h-1zM1058 577h1v16h-1zM1066 577h1v7h-1zM1074 577h1v1h-1zM1082 576h1v2h-1zM1090 571h1v7h-1zM1098 570h1v8h-1zM1106 568h1v10h-1zM1114 568h1v10h-1zM1122 568h1v10h-1zM1130 569h1v9h-1zM1138 570h1v8h-1zM1146 571h1v7h-1zM1154 571h1v7h-1zM1162 575h1v3h-1zM1170 577h1v1h-1zM1178 577h1v2h-1zM1186 577h1v5h-1zM1194 577h1v9h-1zM1202 577h1v11h-1zM1210 577h1v12h-1zM1218 577h1v13h-1zM1226 577h1v14h-1zM1234 577h1v15h-1zM1242 577h1v17h-1zM1250 577h1v19h-1zM1258 577h1v21h-1zM1266 577h1v22h-1zM1274 577h1v23h-1zM1282 577h1v24h-1zM1290 577h1v23h-1zM1298 577h1v22h-1zM1306 577h1v22h-1zM1314 577h1v28h-1zM1322 577h1v35h-1zM1330 577h1v41h-1zM1338 577h1v50h-1zM1346 577h1v57h-1zM1354 577h1v62h-1zM1362 577h1v61h-1zM1370 577h1v62h-1zM1378 577h1v60h-1zM1386 577h1v60h-1zM1394 577h1v63h-1zM1402 577h1v65h-1zM1410 577h1v68h-1zM1418 577h1v70h-1zM1426 577h1v69h-1zM1434 577h1v63h-1zM1442 577h1v57h-1zM1450 577h1v49h-1zM1458 577h1v36h-1zM1466 577h1v26h-1zM1474 577h1v17h-1zM1482 577h1v9h-1zM1490 577h1v2h-1zM1498 572h1v6h-1zM1506 562h1v16h-1zM1514 554h1v24h-1zM1522 548h1v30h-1zM1530 545h1v33h-1zM1538 542h1v36h-1zM1546 538h1v40h-1zM1554 536h1v42h-1zM1562 532h1v46h-1zM1570 531h1v47h-1zM1578 532h1v46h-1zM1586 535h1v43h-1zM1594 537h1v41h-1zM1602 538h1v40h-1zM1610 539h1v39h-1zM1618 540h1v38h-1zM1626 541h1v37h-1zM1634 540h1v38h-1zM1642 540h1v38h-1zM1650 538h1v40h-1zM1658 538h1v40h-1zM1666 538h1v40h-1z"/>
<path fill="#ff0000" d="M2 571h3v1h-3zM8 570h3v1h-3zM14 570h3v1h-3zM20 569h3v1h-3zM26 569h1v1h-1zM27 568h2v1h-2zM32 568h3v1h-3zM38 567h2v1h-2zM40 566h1v1h-1zM44 566h1v1h-1zM45 565h2v1h-2zM50 565h1v1h-1zM51 564h2v1h-2zM56 564h1v1h-1zM57 563h2v1h-2zM62 563h3v1h-3zM68 563h3v1h-3zM74 563h3v1h-3zM80 564h3v1h-3zM86 565h3v1h-3zM92 567h3v1h-3zM98 570h2v1h-2zM100 571h1v1h-1zM104 573h1v1h-1zM105 574h2v1h-2zM110 577h2v1h-2zM112 578h1v1h-1zM116 580h1v1h-1zM117 581h2v1h-2zM122 584h2v1h-2zM124 585h1v1h-1zM128 588h2v1h-2zM130 589h1v1h-1zM134 592h1v1h-1zM135 593h1v1h-1zM136 594h1v1h-1zM140 597h2v1h-2zM142 598h1v1h-1zM146 600h2v1h-2zM148 601h1v1h-1zM152 603h2v1h-2zM154 604h1v1h-1zM158 606h2v1h-2zM160 607h1v1h-1zM164 608h3v1h-3zM170 609h3v1h-3zM176 610h3v1h-3zM182 611h3v1h-3zM188 612h2v1h-2zM190 613h1v1h-1zM194 614h3v1h-3zM200 615h2v1h-2zM202 616h1v1h-1zM206 617h3v1h-3zM212 618h2v1h-2zM214 619h1v1h-1zM218 620h2v1h-2zM220 621h1v1h-1zM224 622h1v1h-1zM225 623h2v1h-2zM230 626h2v1h-2zM232 627h1v1h-1zM236 630h2v1h-2zM238 631h1v1h-1zM242 633h1v1h-1zM243 634h1v1h-1zM244 635h1v1h-1zM248 637h1v1h-1zM249 638h1v1h-1zM250 639h1v1h-1zM254 642h1v1h-1zM255 643h2v1h-2zM260 646h2v1h-2zM262 647h1v1h-1zM266 650h2v1h-2zM268 651h1v1h-1zM272 653h1v1h-1zM273 654h1v1h-1zM274 655h1v1h-1zM278 657h1v1h-1zM279 658h2v1h-2zM284 660h2v1h-2zM286 661h1v1h-1zM290 662h3v1h-3zM296 663h3v1h-3zM302 663h3v1h-3zM308 661h2v1h-2zM310 660h1v1h-1zM314 658h2v1h-2zM316 657h1v1h-1zM320 654h1v1h-1zM321 653h1v1h-1zM322 652h1v1h-1zM326 649h1v1h-1zM327 648h1v1h-1zM328 647h1v1h-1zM332 643h1v1h-1zM333 642h1v1h-1zM334 641h1v1h-1zM338 637h1v1h-1zM339 636h1v1h-1zM340 635h1v1h-1zM344 631h1v1h-1zM345 630h1v1h-1zM346 629h1v1h-1zM349 625h1v1h-1zM350 624h1v1h-1zM351 623h1v1h-1zM355 618h1v1h-1zM356 617h1v1h-1zM360 613h1v1h-1zM361 611h1v2h-1zM365 607h1v1h-1zM366 606h1v1h-1zM367 605h1v1h-1zM371 600h1v2h-1zM372 599h1v1h-1zM376 595h1v1h-1zM377 594h1v1h-1zM378 593h1v1h-1zM381 589h1v1h-1zM382 588h1v1h-1zM383 587h1v1h-1zM386 583h1v1h-1zM387 582h1v1h-1zM388 581h1v1h-1zM392 577h2v1h-2zM394 576h1v1h-1zM398 573h1v1h-1zM399 572h2v1h-2zM404 568h1v1h-1zM405 567h1v1h-1zM406 566h1v1h-1zM410 563h1v1h-1zM411 562h1v1h-1zM412 561h1v1h-1zM416 558h2v1h-2zM418 557h1v1h-1zM422 555h3v1h-3zM428 553h3v1h-3zM434 551h2v1h-2zM436 550h1v1h-1zM440 549h1v1h-1zM441 548h2v1h-2zM446 547h2v1h-2zM448 546h1v1h-1zM452 546h1v1h-1zM453 545h2v1h-2zM458 545h3v1h-3zM464 545h3v1h-3zM470 545h3v1h-3zM476 545h3v1h-3zM482 545h3v1h-3zM488 545h3v1h-3zM494 545h2v1h-2zM496 546h1v1h-1zM500 547h3v1h-3zM506 547h2v1h-2zM508 548h1v1h-1zM512 548h3v1h-3zM518 549h3v1h-3zM524 550h3v1h-3zM530 551h3v1h-3zM536 551h1v1h-1zM537 552h2v1h-2zM542 552h2v1h-2zM544 553h1v1h-1zM548 553h3v1h-3zM554 554h3v1h-3zM560 555h3v1h-3zM566 555h1v1h-1zM567 556h2v1h-2zM572 556h3v1h-3zM578 557h3v1h-3zM584 557h3v1h-3zM590 557h3v1h-3zM596 557h3v1h-3zM602 557h3v1h-3zM608 556h3v1h-3zM614 555h3v1h-3zM620 555h1v1h-1zM621 554h2v1h-2zM626 554h2v1h-2zM628 553h1v1h-1zM632 553h3v1h-3zM638 552h3v1h-3zM644 552h1v1h-1zM645 551h2v1h-2zM650 551h3v1h-3zM656 550h3v1h-3zM662 549h3v1h-3zM668 548h3v1h-3zM674 547h3v1h-3zM680 547h3v1h-3zM686 547h3v1h-3zM692 547h1v1h-1zM693 548h2v1h-2zM698 548h2v1h-2zM700 549h1v1h-1zM704 549h3v1h-3zM710 550h3v1h-3zM716 551h2v1h-2zM718 552h1v1h-1zM722 553h2v1h-2zM724 554h1v1h-1zM728 555h1v1h-1zM729 556h2v1h-2zM734 558h1v1h-1zM735 559h1v1h-1zM736 560h1v1h-1zM740 562h1v1h-1zM741 563h2v1h-2zM746 566h1v1h-1zM747 567h2v1h-2zM752 570h2v1h-2zM754 571h1v1h-1zM758 573h1v1h-1zM759 574h1v1h-1zM760 575h1v1h-1zM764 577h1v1h-1zM765 578h2v1h-2zM770 581h1v1h-1zM771 582h2v1h-2zM776 585h2v1h-2zM778 586h1v1h-1zM782 588h2v1h-2zM784 589h1v1h-1zM788 590h1v1h-1zM789 591h2v1h-2zM794 592h1v1h-1zM795 593h2v1h-2zM800 595h1v1h-1zM801 596h2v1h-2zM806 598h1v1h-1zM807 599h1v1h-1zM808 600h1v1h-1zM812 602h1v1h-1zM813 603h2v1h-2zM818 606h1v1h-1zM819 607h2v1h-2zM824 610h2v1h-2zM826 611h1v1h-1zM830 613h2v1h-2zM832 614h1v1h-1zM836 616h2v1h-2zM838 617h1v1h-1zM842 619h2v1h-2zM844 620h1v1h-1zM848 622h2v1h-2zM850 623h1v1h-1zM854 624h1v1h-1zM855 625h2v1h-2zM860 627h3v1h-3zM866 628h2v1h-2zM868 629h1v1h-1zM872 629h1v1h-1zM873 630h2v1h-2zM878 631h3v1h-3zM884 630h3v1h-3zM890 630h1v1h-1zM891 629h2v1h-2zM896 628h3v1h-3zM902 626h3v1h-3zM908 625h1v1h-1zM909 624h2v1h-2zM914 622h3v1h-3zM920 620h3v1h-3zM926 619h2v1h-2zM928 618h1v1h-1zM932 618h3v1h-3zM938 618h3v1h-3zM944 618h3v1h-3zM950 619h3v1h-3zM956 620h2v1h-2zM958 621h1v1h-1zM962 622h3v1h-3zM968 624h3v1h-3zM974 625h2v1h-2zM976 626h1v1h-1zM980 627h3v1h-3zM986 628h3v1h-3zM992 629h3v1h-3zM998 629h3v1h-3zM1004 629h2v1h-2zM1006 628h1v1h-1zM1010 628h1v1h-1zM1011 627h2v1h-2zM1016 625h2v1h-2zM1018 624h1v1h-1zM1022 623h1v1h-1zM1023 622h2v1h-2zM1028 620h1v1h-1zM1029 619h2v1h-2zM1034 616h2v1h-2zM1036 615h1v1h-1zM1040 613h1v1h-1zM1041 612h2v1h-2zM1046 609h1v1h-1zM1047 608h2v1h-2zM1052 605h2v1h-2zM1054 604h1v1h-1zM1058 602h3v1h-3zM1064 600h1v1h-1zM1065 599h2v1h-2zM1070 597h1v1h-1zM1071 596h1v1h-1zM1072 595h1v1h-1zM1076 593h1v1h-1zM1077 592h1v1h-1zM1078 591h1v1h-1zM1082 589h2v1h-2zM1084 588h1v1h-1zM1088 587h1v1h-1zM1089 586h2v1h-2zM1094 584h2v1h-2zM1096 583h1v1h-1zM1100 582h1v1h-1zM1101 581h2v1h-2zM1106 580h1v1h-1zM1107 579h2v1h-2zM1112 578h3v1h-3zM1118 577h3v1h-3zM1124 575h2v1h-2zM1126 574h1v1h-1zM1130 573h1v1h-1zM1131 572h2v1h-2zM1136 570h3v1h-3zM1142 569h3v1h-3zM1148 569h3v1h-3zM1154 569h3v1h-3zM1160 569h3v1h-3zM1166 569h3v1h-3zM1172 570h3v1h-3zM1178 571h3v1h-3zM1184 572h2v1h-2zM1186 573h1v1h-1zM1190 574h3v1h-3zM1196 576h3v1h-3zM1202 577h3v1h-3zM1208 579h2v1h-2zM1210 580h1v1h-1zM1214 581h1v1h-1zM1215 582h2v1h-2zM1220 583h3v1h-3zM1226 584h1v1h-1zM1227 585h2v1h-2zM1232 586h3v1h-3zM1238 587h1v1h-1zM1239 588h2v1h-2zM1244 589h3v1h-3zM1250 590h1v1h-1zM1251 591h2v1h-2zM1256 592h3v1h-3zM1262 593h3v1h-3zM1268 593h3v1h-3zM1274 594h3v1h-3zM1280 595h1v1h-1zM1281 596h2v1h-2zM1286 597h3v1h-3zM1292 597h3v1h-3zM1298 598h3v1h-3zM1304 598h3v1h-3zM1310 599h3v1h-3zM1316 600h3v1h-3zM1322 601h2v1h-2zM1324 602h1v1h-1zM1328 603h1v1h-1zM1329 604h2v1h-2zM1334 605h1v1h-1zM1335 606h2v1h-2zM1340 608h2v1h-2zM1342 609h1v1h-1zM1346 611h2v1h-2zM1348 612h1v1h-1zM1352 614h2v1h-2zM1354 615h1v1h-1zM1358 617h2v1h-2zM1360 618h1v1h-1zM1364 620h1v1h-1zM1365 621h2v1h-2zM1370 624h2v1h-2zM1372 625h1v1h-1zM1376 627h2v1h-2zM1378 628h1v1h-1zM1382 629h1v1h-1zM1383 630h2v1h-2zM1388 631h1v1h-1zM1389 632h2v1h-2zM1394 634h1v1h-1zM1395 635h2v1h-2zM1400 637h3v1h-3zM1406 638h3v1h-3zM1412 639h3v1h-3zM1418 640h3v1h-3zM1424 641h3v1h-3zM1430 641h3v1h-3zM1436 641h3v1h-3zM1442 641h3v1h-3zM1448 641h1v1h-1zM1449 640h2v1h-2zM1454 638h2v1h-2zM1456 637h1v1h-1zM1460 635h2v1h-2zM1462 634h1v1h-1zM1466 632h2v1h-2zM1468 631h1v1h-1zM1472 629h2v1h-2zM1474 628h1v1h-1zM1478 625h1v1h-1zM1479 624h1v1h-1zM1480 623h1v1h-1zM1484 619h1v1h-1zM1485 618h1v1h-1zM1486 617h1v1h-1zM1490 613h1v1h-1zM1491 612h1v1h-1zM1492 611h1v1h-1zM1496 607h1v1h-1zM1497 606h1v1h-1zM1498 604h1v2h-1zM1501 601h1v1h-1zM1502 600h1v1h-1zM1503 599h1v1h-1zM1507 594h1v1h-1zM1508 593h1v1h-1zM1512 589h1v1h-1zM1513 588h1v1h-1zM1514 587h1v1h-1zM1518 584h1v1h-1zM1519 583h1v1h-1zM1520 582h1v1h-1zM1524 578h1v1h-1zM1525 577h1v1h-1zM1526 575h1v2h-1zM1529 572h1v1h-1zM1530 571h1v1h-1zM1531 570h1v1h-1zM1535 567h1v1h-1zM1536 566h1v1h-1zM1537 565h1v1h-1zM1541 561h1v1h-1zM1542 560h1v1h-1zM1543 559h1v1h-1zM1547 556h2v1h-2zM1549 555h1v1h-1zM1553 553h1v1h-1zM1554 552h2v1h-2zM1559 549h3v1h-3zM1565 547h1v1h-1zM1566 546h1v1h-1zM1567 545h1v1h-1zM1571 543h1v1h-1zM1572 542h1v1h-1zM1573 541h1v1h-1zM1577 539h3v1h-3zM1583 537h3v1h-3zM1589 536h3v1h-3zM1595 535h3v1h-3zM1601 535h1v1h-1zM1602 534h2v1h-2zM1607 534h3v1h-3zM1613 534h2v1h-2zM1615 535h1v1h-1zM1619 535h3v1h-3zM1625 535h3v1h-3zM1631 536h3v1h-3zM1637 536h3v1h-3zM1643 537h3v1h-3zM1649 537h3v1h-3zM1655 538h3v1h-3zM1661 538h3v1h-3z"/>
</g>
<g shape-rendering="crispEdges">
<line x1="3" y1="721.5" x2="1687" y2="721.5" stroke="#c0c0c0" stroke-dasharray="3 3"/>
<line x1="3" y1="776.5" x2="1687" y2="776.5" stroke="#c0c0c0" stroke-dasharray="3 3"/>
<path fill="#1e90ff" d="M2 739h2v1h-2zM4 740h2v1h-2zM6 741h2v1h-2zM8 742h2v1h-2zM10 743h1v1h-1zM11 742h1v1h-1zM12 741h1v1h-1zM13 740h2v1h-2zM15 739h1v1h-1zM16 738h1v1h-1zM17 737h1v1h-1zM18 736h2v1h-2zM20 735h1v1h-1zM21 734h2v1h-2zM23 733h1v1h-1zM24 732h1v1h-1zM25 731h3v1h-3zM28 732h1v1h-1zM29 733h2v1h-2zM31 734h1v1h-1zM32 735h2v1h-2zM34 736h5v1h-5zM39 737h7v1h-7zM46 736h8v1h-8zM54 737h4v1h-4zM58 738h1v2h-1zM59 740h1v2h-1zM60 742h1v3h-1zM61 745h1v2h-1zM62 747h1v3h-1zM63 750h1v3h-1zM64 753h1v2h-1zM65 755h1v3h-1zM66 758h1v2h-1zM67 760h1v1h-1zM68 761h1v1h-1zM69 762h1v1h-1zM70 763h1v1h-1zM71 764h1v1h-1zM72 765h1v1h-1zM73 766h1v1h-1zM74 767h11v1h-11zM85 768h3v1h-3zM88 769h3v1h-3zM91 770h1v1h-1zM92 771h2v1h-2zM94 772h1v1h-1zM95 773h1v1h-1zM96 774h2v1h-2zM98 775h9v1h-9zM107 773h1v2h-1zM108 771h1v2h-1zM109 769h1v2h-1zM110 767h1v2h-1zM111 765h1v2h-1zM112 763h1v2h-1zM113 761h1v2h-1zM114 760h1v1h-1zM115 761h1v1h-1zM116 762h1v1h-1zM117 763h1v2h-1zM118 765h1v1h-1zM119 766h1v1h-1zM120 767h1v1h-1zM121 768h1v2h-1zM122 770h2v1h-2zM124 771h2v1h-2zM126 772h2v1h-2zM128 773h1v1h-1zM129 774h4v1h-4zM133 773h2v1h-2zM135 772h3v1h-3zM138 771h5v1h-5zM143 770h5v1h-5zM148 769h3v1h-3zM151 768h2v1h-2zM153 767h3v1h-3zM156 766h2v1h-2zM158 765h3v1h-3zM161 764h3v1h-3zM164 765h2v1h-2zM166 766h2v1h-2zM168 767h2v1h-2zM170 768h2v1h-2zM172 769h4v1h-4zM176 770h12v1h-12zM188 771h2v1h-2zM190 772h2v1h-2zM192 773h2v1h-2zM194 774h3v1h-3zM197 775h3v1h-3zM200 776h2v1h-2zM202 776h1v2h-1zM203 778h1v1h-1zM204 779h1v1h-1zM205 780h1v2h-1zM206 782h1v1h-1zM207 783h1v2h-1zM208 785h1v1h-1zM209 786h1v2h-1zM210 788h2v1h-2zM212 789h1v1h-1zM213 790h1v1h-1zM214 791h2v1h-2zM216 792h1v1h-1zM217 793h1v1h-1zM218 794h2v1h-2zM220 795h2v1h-2zM222 796h2v1h-2zM224 797h2v1h-2zM226 798h1v1h-1zM227 796h1v2h-1zM228 795h1v1h-1zM229 794h1v1h-1zM230 793h1v1h-1zM231 791h1v2h-1zM232 790h1v1h-1zM233 789h1v1h-1zM234 788h3v1h-3zM237 789h3v1h-3zM240 790h2v1h-2zM242 791h1v1h-1zM243 789h1v2h-1zM244 788h1v1h-1zM245 787h1v1h-1zM246 786h1v1h-1zM247 784h1v2h-1zM248 783h1v1h-1zM249 782h1v1h-1zM250 781h2v1h-2zM252 782h2v1h-2zM254 783h3v1h-3zM257 784h2v1h-2zM259 783h1v1h-1zM260 782h1v1h-1zM261 780h1v2h-1zM262 779h1v1h-1zM263 778h1v1h-1zM264 776h1v2h-1zM265 775h1v1h-1zM266 774h2v1h-2zM268 773h4v1h-4zM272 772h4v1h-4zM276 773h2v1h-2zM278 774h3v1h-3zM281 775h5v1h-5zM286 776h5v1h-5zM291 775h1v1h-1zM292 773h1v2h-1zM293 772h1v1h-1zM294 770h1v2h-1zM295 769h1v1h-1zM296 767h1v2h-1zM297 766h1v1h-1zM298 764h1v2h-1zM299 764h1v1h-1zM300 763h1v1h-1zM301 762h1v1h-1zM302 761h2v1h-2zM304 760h1v1h-1zM305 759h1v1h-1zM306 758h1v1h-1zM307 755h1v3h-1zM308 753h1v2h-1zM309 750h1v3h-1zM310 748h1v2h-1zM311 745h1v3h-1zM312 743h1v2h-1zM313 740h1v3h-1zM314 738h1v2h-1zM315 739h3v1h-3zM318 740h2v1h-2zM320 741h7v1h-7zM327 740h5v1h-5zM332 741h3v1h-3zM335 742h3v1h-3zM338 743h1v1h-1zM339 742h4v1h-4zM343 741h4v1h-4zM347 740h1v1h-1zM348 739h2v1h-2zM350 738h1v1h-1zM351 737h2v1h-2zM353 736h2v1h-2zM355 735h4v1h-4zM359 734h4v1h-4zM363 733h2v1h-2zM365 732h1v1h-1zM366 731h2v1h-2zM368 730h1v1h-1zM369 729h13v1h-13zM382 730h4v1h-4zM386 731h1v1h-1zM387 730h4v1h-4zM391 729h6v1h-6zM397 728h9v1h-9zM406 729h7v1h-7zM413 728h4v1h-4zM417 727h11v1h-11zM428 726h2v1h-2zM430 725h3v1h-3zM433 724h2v1h-2zM435 725h1v2h-1zM436 727h1v2h-1zM437 729h1v1h-1zM438 730h1v2h-1zM439 732h1v2h-1zM440 734h1v1h-1zM441 735h1v2h-1zM442 737h1v1h-1zM443 738h1v1h-1zM444 739h1v1h-1zM445 740h2v1h-2zM447 741h1v1h-1zM448 742h1v1h-1zM449 743h1v1h-1zM450 744h1v1h-1zM451 743h1v1h-1zM452 742h2v1h-2zM454 741h1v1h-1zM455 740h1v1h-1zM456 739h2v1h-2zM458 738h6v1h-6zM464 739h3v1h-3zM467 738h1v1h-1zM468 737h2v1h-2zM470 736h1v1h-1zM471 735h1v1h-1zM472 734h2v1h-2zM474 733h4v1h-4zM478 734h9v1h-9zM487 733h4v1h-4zM491 734h2v1h-2zM493 735h1v1h-1zM494 736h1v1h-1zM495 737h2v1h-2zM497 738h1v1h-1zM498 739h3v1h-3zM501 738h6v1h-6zM507 739h1v1h-1zM508 740h2v1h-2zM510 741h1v1h-1zM511 742h1v1h-1zM512 743h1v1h-1zM513 744h1v1h-1zM514 745h1v1h-1zM515 744h2v1h-2zM517 743h2v1h-2zM519 742h2v1h-2zM521 741h2v1h-2zM523 740h2v1h-2zM525 739h3v1h-3zM528 738h3v1h-3zM531 737h4v1h-4zM535 736h5v1h-5zM540 737h2v1h-2zM542 738h2v1h-2zM544 739h2v1h-2zM546 740h4v1h-4zM550 739h5v1h-5zM555 738h2v1h-2zM557 737h2v1h-2zM559 736h2v1h-2zM561 735h11v1h-11zM572 734h3v1h-3zM575 733h2v1h-2zM577 732h3v1h-3zM580 731h2v1h-2zM582 730h3v1h-3zM585 729h2v1h-2zM587 728h2v1h-2zM589 727h2v1h-2zM591 726h1v1h-1zM592 725h2v1h-2zM594 724h1v1h-1zM595 725h2v1h-2zM597 726h1v1h-1zM598 727h2v1h-2zM600 728h2v1h-2zM602 729h1v1h-1zM603 728h1v1h-1zM604 727h1v1h-1zM605 726h1v1h-1zM606 725h2v1h-2zM608 724h1v1h-1zM609 723h1v1h-1zM610 722h2v1h-2zM612 721h2v1h-2zM614 720h3v1h-3zM617 719h2v1h-2zM619 720h1v1h-1zM620 721h1v1h-1zM621 722h1v1h-1zM622 723h1v1h-1zM623 724h1v1h-1zM624 725h1v1h-1zM625 726h1v1h-1zM626 727h2v1h-2zM628 728h3v1h-3zM631 729h2v1h-2zM633 730h4v1h-4zM637 729h4v1h-4zM641 728h6v1h-6zM647 727h4v1h-4zM651 726h1v1h-1zM652 725h2v1h-2zM654 724h1v1h-1zM655 723h1v1h-1zM656 722h2v1h-2zM658 721h3v1h-3zM661 722h4v1h-4zM665 723h3v1h-3zM668 724h4v1h-4zM672 725h6v1h-6zM678 724h4v1h-4zM682 724h1v2h-1zM683 726h1v2h-1zM684 728h1v2h-1zM685 730h1v2h-1zM686 732h1v2h-1zM687 734h1v2h-1zM688 736h1v3h-1zM689 739h1v2h-1zM690 741h2v1h-2zM692 742h3v1h-3zM695 743h3v1h-3zM698 744h5v1h-5zM703 745h3v1h-3zM706 745h1v3h-1zM707 748h1v4h-1zM708 752h1v4h-1zM709 756h1v4h-1zM710 760h1v4h-1zM711 764h1v4h-1zM712 768h1v4h-1zM713 772h1v4h-1zM714 776h1v2h-1zM715 776h1v1h-1zM716 774h1v2h-1zM717 773h1v1h-1zM718 771h1v2h-1zM719 770h1v1h-1zM720 768h1v2h-1zM721 767h1v1h-1zM722 765h1v2h-1zM723 765h11v1h-11zM734 766h7v1h-7zM741 765h3v1h-3zM744 764h7v1h-7zM751 765h4v1h-4zM755 766h1v1h-1zM756 767h1v1h-1zM757 768h2v1h-2zM759 769h1v1h-1zM760 770h1v1h-1zM761 771h1v1h-1zM762 772h4v1h-4zM766 773h6v1h-6zM772 774h4v1h-4zM776 775h6v1h-6zM782 774h5v1h-5zM787 773h2v1h-2zM789 772h2v1h-2zM791 771h1v1h-1zM792 770h2v1h-2zM794 769h1v2h-1zM795 771h1v2h-1zM796 773h1v1h-1zM797 774h1v2h-1zM798 776h1v2h-1zM799 778h1v1h-1zM800 779h1v2h-1zM801 781h1v2h-1zM802 783h2v1h-2zM804 784h1v1h-1zM805 785h1v1h-1zM806 786h1v1h-1zM807 787h1v1h-1zM808 788h1v1h-1zM809 789h1v1h-1zM810 790h4v1h-4zM814 791h6v1h-6zM820 790h2v1h-2zM822 789h2v1h-2zM824 788h2v1h-2zM826 787h1v1h-1zM827 786h1v1h-1zM828 785h1v1h-1zM829 784h2v1h-2zM831 783h1v1h-1zM832 782h1v1h-1zM833 781h1v1h-1zM834 780h2v1h-2zM836 781h4v1h-4zM840 782h6v1h-6zM846 783h5v1h-5zM851 781h1v2h-1zM852 778h1v3h-1zM853 776h1v2h-1zM854 774h1v2h-1zM855 772h1v2h-1zM856 770h1v2h-1zM857 768h1v2h-1zM858 766h1v2h-1zM859 765h1v1h-1zM860 764h2v1h-2zM862 763h2v1h-2zM864 762h2v1h-2zM866 761h2v1h-2zM868 762h4v1h-4zM872 763h5v1h-5zM877 762h4v1h-4zM881 761h3v1h-3zM884 760h2v1h-2zM886 759h2v1h-2zM888 758h2v1h-2zM890 757h1v1h-1zM891 756h1v1h-1zM892 755h2v1h-2zM894 754h1v1h-1zM895 753h1v1h-1zM896 752h1v1h-1zM897 751h1v1h-1zM898 751h1v2h-1zM899 753h1v2h-1zM900 755h1v2h-1zM901 757h1v2h-1zM902 759h1v2h-1zM903 761h1v2h-1zM904 763h1v2h-1zM905 765h1v2h-1zM906 767h3v1h-3zM909 768h4v1h-4zM913 769h5v1h-5zM918 770h4v1h-4zM922 771h2v1h-2zM924 772h2v1h-2zM926 773h1v1h-1zM927 774h2v1h-2zM929 775h1v1h-1zM930 776h2v1h-2zM932 777h3v1h-3zM935 778h3v1h-3zM938 779h2v1h-2zM940 780h1v1h-1zM941 781h2v1h-2zM943 782h1v1h-1zM944 783h2v1h-2zM946 784h5v1h-5zM951 785h4v1h-4zM955 784h1v1h-1zM956 782h1v2h-1zM957 781h1v1h-1zM958 780h1v1h-1zM959 778h1v2h-1zM960 777h1v1h-1zM961 776h1v1h-1zM962 775h1v1h-1zM963 774h1v1h-1zM964 773h1v1h-1zM965 772h2v1h-2zM967 771h1v1h-1zM968 770h1v1h-1zM969 769h3v1h-3zM972 768h4v1h-4zM976 767h11v1h-11zM987 765h1v2h-1zM988 764h1v1h-1zM989 762h1v2h-1zM990 760h1v2h-1zM991 759h1v1h-1zM992 757h1v2h-1zM993 755h1v2h-1zM994 754h3v1h-3zM997 755h3v1h-3zM1000 756h3v1h-3zM1003 755h1v1h-1zM1004 753h1v2h-1zM1005 752h1v1h-1zM1006 751h1v1h-1zM1007 749h1v2h-1zM1008 748h1v1h-1zM1009 746h1v2h-1zM1010 745h6v1h-6zM1016 746h5v1h-5zM1021 745h6v1h-6zM1027 746h2v1h-2zM1029 747h1v1h-1zM1030 748h2v1h-2zM1032 749h2v1h-2zM1034 750h1v1h-1zM1035 749h2v1h-2zM1037 748h2v1h-2zM1039 747h2v1h-2zM1041 746h2v1h-2zM1043 747h1v2h-1zM1044 749h1v2h-1zM1045 751h1v1h-1zM1046 752h1v2h-1zM1047 754h1v2h-1zM1048 756h1v1h-1zM1049 757h1v2h-1zM1050 759h1v1h-1zM1051 758h2v1h-2zM1053 757h2v1h-2zM1055 756h2v1h-2zM1057 755h2v1h-2zM1059 753h1v2h-1zM1060 750h1v3h-1zM1061 748h1v2h-1zM1062 746h1v2h-1zM1063 744h1v2h-1zM1064 741h1v3h-1zM1065 739h1v2h-1zM1066 737h1v2h-1zM1067 737h19v1h-19zM1086 736h5v1h-5zM1091 737h1v1h-1zM1092 738h1v1h-1zM1093 739h1v1h-1zM1094 740h1v1h-1zM1095 741h1v1h-1zM1096 742h1v1h-1zM1097 743h1v1h-1zM1098 744h1v1h-1zM1099 743h2v1h-2zM1101 742h2v1h-2zM1103 741h2v1h-2zM1105 740h3v1h-3zM1108 741h2v1h-2zM1110 742h2v1h-2zM1112 743h2v1h-2zM1114 744h5v1h-5zM1119 745h5v1h-5zM1124 746h4v1h-4zM1128 747h6v1h-6zM1134 748h6v1h-6zM1140 747h2v1h-2zM1142 746h1v1h-1zM1143 745h2v1h-2zM1145 744h3v1h-3zM1148 745h3v1h-3zM1151 746h2v1h-2zM1153 747h2v1h-2zM1155 748h1v2h-1zM1156 750h1v1h-1zM1157 751h1v1h-1zM1158 752h1v1h-1zM1159 753h1v2h-1zM1160 755h1v1h-1zM1161 756h1v1h-1zM1162 757h4v1h-4zM1166 758h6v1h-6zM1172 757h3v1h-3zM1175 756h2v1h-2zM1177 755h2v1h-2zM1179 756h1v1h-1zM1180 757h2v1h-2zM1182 758h1v1h-1zM1183 759h1v1h-1zM1184 760h2v1h-2zM1186 761h1v1h-1zM1187 762h1v1h-1zM1188 763h2v1h-2zM1190 764h1v1h-1zM1191 765h2v1h-2zM1193 766h1v1h-1zM1194 767h1v1h-1zM1195 766h1v1h-1zM1196 765h2v1h-2zM1198 764h1v1h-1zM1199 763h2v1h-2zM1201 762h1v1h-1zM1202 761h2v1h-2zM1204 760h2v1h-2zM1206 759h2v1h-2zM1208 758h2v1h-2zM1210 757h1v1h-1zM1211 758h2v1h-2zM1213 759h2v1h-2zM1215 760h2v1h-2zM1217 761h3v1h-3zM1220 760h3v1h-3zM1223 759h2v1h-2zM1225 758h2v1h-2zM1227 759h2v1h-2zM1229 760h2v1h-2zM1231 761h2v1h-2zM1233 762h2v1h-2zM1235 763h2v1h-2zM1237 764h2v1h-2zM1239 765h1v1h-1zM1240 766h2v1h-2zM1242 767h11v1h-11zM1253 766h8v1h-8zM1261 767h4v1h-4zM1265 768h3v1h-3zM1268 769h2v1h-2zM1270 770h3v1h-3zM1273 771h3v1h-3zM1276 770h1v1h-1zM1277 769h2v1h-2zM1279 768h2v1h-2zM1281 767h1v1h-1zM1282 766h3v1h-3zM1285 765h3v1h-3zM1288 764h3v1h-3zM1291 762h1v2h-1zM1292 761h1v1h-1zM1293 760h1v1h-1zM1294 758h1v2h-1zM1295 757h1v1h-1zM1296 756h1v1h-1zM1297 754h1v2h-1zM1298 753h1v2h-1zM1299 755h1v2h-1zM1300 757h1v2h-1zM1301 759h1v2h-1zM1302 761h1v2h-1zM1303 763h1v2h-1zM1304 765h1v2h-1zM1305 767h1v2h-1zM1306 769h1v1h-1zM1307 770h1v1h-1zM1308 771h2v1h-2zM1310 772h1v1h-1zM1311 773h1v1h-1zM1312 774h1v1h-1zM1313 775h1v1h-1zM1314 776h1v1h-1zM1315 777h1v1h-1zM1316 778h2v1h-2zM1318 779h1v1h-1zM1319 780h1v1h-1zM1320 781h1v1h-1zM1321 782h1v1h-1zM1322 783h3v1h-3zM1325 784h5v1h-5zM1330 785h2v1h-2zM1332 786h1v1h-1zM1333 787h2v1h-2zM1335 788h1v1h-1zM1336 789h2v1h-2zM1338 790h4v1h-4zM1342 791h8v1h-8zM1350 790h4v1h-4zM1354 789h1v1h-1zM1355 788h1v1h-1zM1356 786h1v2h-1zM1357 784h1v2h-1zM1358 783h1v1h-1zM1359 781h1v2h-1zM1360 779h1v2h-1zM1361 777h1v2h-1zM1362 776h3v1h-3zM1365 777h3v1h-3zM1368 778h4v1h-4zM1372 777h1v1h-1zM1373 776h2v1h-2zM1375 775h1v1h-1zM1376 774h2v1h-2zM1378 773h1v1h-1zM1379 774h2v1h-2zM1381 775h2v1h-2zM1383 776h2v1h-2zM1385 777h1v1h-1zM1386 778h2v1h-2zM1388 779h2v1h-2zM1390 780h2v1h-2zM1392 781h2v1h-2zM1394 782h4v1h-4zM1398 783h5v1h-5zM1403 784h2v1h-2zM1405 785h2v1h-2zM1407 786h2v1h-2zM1409 787h7v1h-7zM1416 786h3v1h-3zM1419 785h1v1h-1zM1420 784h1v1h-1zM1421 783h2v1h-2zM1423 782h1v1h-1zM1424 781h1v1h-1zM1425 780h1v1h-1zM1426 779h1v1h-1zM1427 777h1v2h-1zM1428 775h1v2h-1zM1429 773h1v2h-1zM1430 772h1v1h-1zM1431 770h1v2h-1zM1432 768h1v2h-1zM1433 766h1v2h-1zM1434 764h1v2h-1zM1435 764h1v1h-1zM1436 763h1v1h-1zM1437 762h2v1h-2zM1439 761h1v1h-1zM1440 760h1v1h-1zM1441 759h2v1h-2zM1443 758h1v1h-1zM1444 757h1v1h-1zM1445 756h1v1h-1zM1446 755h1v1h-1zM1447 754h1v1h-1zM1448 753h1v1h-1zM1449 752h1v1h-1zM1450 751h1v1h-1zM1451 749h1v2h-1zM1452 747h1v2h-1zM1453 746h1v1h-1zM1454 744h1v2h-1zM1455 742h1v2h-1zM1456 740h1v2h-1zM1457 739h1v1h-1zM1458 737h1v2h-1zM1459 737h3v1h-3zM1462 738h9v1h-9zM1471 737h6v1h-6zM1477 736h4v1h-4zM1481 735h3v1h-3zM1484 734h3v1h-3zM1487 733h2v1h-2zM1489 732h2v1h-2zM1491 731h2v1h-2zM1493 730h2v1h-2zM1495 729h2v1h-2zM1497 728h2v1h-2zM1499 727h1v1h-1zM1500 726h2v1h-2zM1502 725h1v1h-1zM1503 724h2v1h-2zM1505 723h2v1h-2zM1507 722h2v1h-2zM1509 721h2v1h-2zM1511 720h2v1h-2zM1513 719h3v1h-3zM1516 720h1v1h-1zM1517 721h2v1h-2zM1519 722h1v1h-1zM1520 723h2v1h-2zM1522 724h2v1h-2zM1524 725h2v1h-2zM1526 726h2v1h-2zM1528 727h2v1h-2zM1530 728h2v1h-2zM1532 727h4v1h-4zM1536 726h3v1h-3zM1539 725h2v1h-2zM1541 724h1v1h-1zM1542 723h2v1h-2zM1544 722h1v1h-1zM1545 721h5v1h-5zM1550 722h4v1h-4zM1554 723h1v1h-1zM1555 722h2v1h-2zM1557 721h2v1h-2zM1559 720h2v1h-2zM1561 719h3v1h-3zM1564 720h1v1h-1zM1565 721h1v1h-1zM1566 722h2v1h-2zM1568 723h1v1h-1zM1569 724h1v1h-1zM1570 725h5v1h-5zM1575 726h3v1h-3zM1578 726h1v2h-1zM1579 728h1v1h-1zM1580 729h1v1h-1zM1581 730h1v1h-1zM1582 731h1v2h-1zM1583 733h1v1h-1zM1584 734h1v1h-1zM1585 735h1v1h-1zM1586 736h2v1h-2zM1588 735h3v1h-3zM1591 734h2v1h-2zM1593 733h5v1h-5zM1598 732h7v1h-7zM1605 731h14v1h-14zM1619 730h3v1h-3zM1622 729h2v1h-2zM1624 728h3v1h-3zM1627 727h1v1h-1zM1628 726h2v1h-2zM1630 725h1v1h-1zM1631 724h2v1h-2zM1633 723h2v1h-2zM1635 722h4v1h-4zM1639 721h4v1h-4zM1643 720h15v1h-15zM1658 721h4v1h-4zM1662 722h3v1h-3zM1665 723h1v1h-1z"/>
</g>
<g shape-rendering="crispEdges" fill="#000">
<rect x="1" y="3" width="1687" height="1"/>
<rect x="1" y="520" width="1687" height="1"/>
<rect x="1" y="3" width="1" height="518"/>
<rect x="1687" y="3" width="1" height="518"/>
<rect x="1" y="522" width="1687" height="1"/>
<rect x="1" y="676" width="1687" height="1"/>
<rect x="1" y="522" width="1" height="155"/>
<rect x="1687" y="522" width="1" height="155"/>
<rect x="1" y="678" width="1687" height="1"/>
<rect x="1" y="818" width="1687" height="1"/>
<rect x="1" y="678" width="1" height="141"/>
<rect x="1687" y="678" width="1" height="141"/>
<rect x="1688" y="22" width="2" height="1"/>
<rect x="1688" y="55" width="2" height="1"/>
<rect x="1688" y="88" width="2" height="1"/>
<rect x="1688" y="121" width="2" height="1"/>
<rect x="1688" y="154" width="2" height="1"/>
<rect x="1688" y="187" width="2" height="1"/>
<rect x="1688" y="220" width="2" height="1"/>
<rect x="1688" y="253" width="2" height="1"/>
<rect x="1688" y="286" width="2" height="1"/>
<rect x="1688" y="319" width="2" height="1"/>
<rect x="1688" y="352" width="2" height="1"/>
<rect x="1688" y="385" width="2" height="1"/>
<rect x="1688" y="418" width="2" height="1"/>
<rect x="1688" y="451" width="2" height="1"/>
<rect x="1688" y="484" width="2" height="1"/>
<rect x="1688" y="517" width="2" height="1"/>
<rect x="1688" y="524" width="2" height="1"/>
<rect x="1688" y="577" width="2" height="1"/>
<rect x="1688" y="675" width="2" height="1"/>
<rect x="1688" y="680" width="2" height="1"/>
<rect x="1688" y="721" width="2" height="1"/>
<rect x="1688" y="776" width="2" height="1"/>
<rect x="1688" y="817" width="2" height="1"/>
<rect x="2" y="819" width="1" height="3"/>
<rect x="66" y="819" width="1" height="3"/>
<rect x="130" y="819" width="1" height="3"/>
<rect x="194" y="819" width="1" height="3"/>
<rect x="258" y="819" width="1" height="3"/>
<rect x="322" y="819" width="1" height="3"/>
<rect x="386" y="819" width="1" height="3"/>
<rect x="450" y="819" width="1" height="3"/>
<rect x="514" y="819" width="1" height="3"/>
<rect x="578" y="819" width="1" height="3"/>
<rect x="642" y="819" width="1" height="3"/>
<rect x="706" y="819" width="1" height="3"/>
<rect x="770" y="819" width="1" height="3"/>
<rect x="834" y="819" width="1" height="3"/>
<rect x="898" y="819" width="1" height="3"/>
<rect x="962" y="819" width="1" height="3"/>
<rect x="1026" y="819" width="1" height="3"/>
<rect x="1090" y="819" width="1" height="3"/>
<rect x="1154" y="819" width="1" height="3"/>
<rect x="1218" y="819" width="1" height="3"/>
<rect x="1282" y="819" width="1" height="3"/>
<rect x="1346" y="819" width="1" height="3"/>
<rect x="1410" y="819" width="1" height="3"/>
<rect x="1474" y="819" width="1" height="3"/>
<rect x="1538" y="819" width="1" height="3"/>
<rect x="1602" y="819" width="1" height="3"/>
<rect x="1666" y="819" width="1" height="3"/>
<path d="M5 10h7v1h-7zM6 11h5v1h-5zM7 12h3v1h-3zM8 13h1v1h-1z"/>
</g>
<g shape-rendering="crispEdges">
<rect x="2" y="61" width="1686" height="2" fill="#ff0000"/>
<rect x="2" y="184" width="1686" height="2" fill="#ff0000"/>
<rect x="2" y="307" width="1686" height="2" fill="#32cd32"/>
<rect x="2" y="430" width="1686" height="2" fill="#4169e1"/>
</g>
<text x="1693" y="26" textLength="28" lengthAdjust="spacingAndGlyphs">75.655</text>
<text x="1693" y="59" textLength="28" lengthAdjust="spacingAndGlyphs">74.705</text>
<text x="1693" y="92" textLength="28" lengthAdjust="spacingAndGlyphs">73.780</text>
<text x="1693" y="125" textLength="28" lengthAdjust="spacingAndGlyphs">72.830</text>
<text x="1693" y="158" textLength="28" lengthAdjust="spacingAndGlyphs">71.880</text>
<text x="1693" y="191" textLength="28" lengthAdjust="spacingAndGlyphs">70.930</text>
<text x="1693" y="224" textLength="28" lengthAdjust="spacingAndGlyphs">70.005</text>
<text x="1693" y="257" textLength="28" lengthAdjust="spacingAndGlyphs">69.080</text>
<text x="1693" y="290" textLength="28" lengthAdjust="spacingAndGlyphs">68.130</text>
<text x="1693" y="323" textLength="28" lengthAdjust="spacingAndGlyphs">67.180</text>
<text x="1693" y="356" textLength="28" lengthAdjust="spacingAndGlyphs">66.255</text>
<text x="1693" y="389" textLength="28" lengthAdjust="spacingAndGlyphs">65.305</text>
<text x="1693" y="422" textLength="28" lengthAdjust="spacingAndGlyphs">64.380</text>
<text x="1693" y="455" textLength="28" lengthAdjust="spacingAndGlyphs">63.430</text>
<text x="1693" y="488" textLength="28" lengthAdjust="spacingAndGlyphs">62.480</text>
<text x="1693" y="521" textLength="28" lengthAdjust="spacingAndGlyphs">61.555</text>
<text x="1691" y="533" textLength="28" lengthAdjust="spacingAndGlyphs">0.9964</text>
<text x="1691" y="581" textLength="18" lengthAdjust="spacingAndGlyphs">0.00</text>
<text x="1691" y="673" textLength="31" lengthAdjust="spacingAndGlyphs">-1.8579</text>
<text x="1691" y="689" textLength="15.3" lengthAdjust="spacingAndGlyphs">100</text>
<text x="1691" y="725" textLength="10.2" lengthAdjust="spacingAndGlyphs">70</text>
<text x="1691" y="780" textLength="10.2" lengthAdjust="spacingAndGlyphs">30</text>
<text x="1691" y="815" textLength="5.1" lengthAdjust="spacingAndGlyphs">0</text>
<rect x="1689" y="56" width="36" height="11" fill="#ff0000" shape-rendering="crispEdges"/>
<text class="w" x="1693" y="65" textLength="28" lengthAdjust="spacingAndGlyphs">74.500</text>
<rect x="1689" y="179" width="36" height="11" fill="#ff0000" shape-rendering="crispEdges"/>
<text class="w" x="1693" y="188" textLength="28" lengthAdjust="spacingAndGlyphs">71.000</text>
<rect x="1689" y="263" width="36" height="11" fill="#000000" shape-rendering="crispEdges"/>
<text class="w" x="1693" y="272" textLength="28" lengthAdjust="spacingAndGlyphs">68.640</text>
<rect x="1689" y="302" width="36" height="11" fill="#32cd32" shape-rendering="crispEdges"/>
<text class="w" x="1693" y="311" textLength="28" lengthAdjust="spacingAndGlyphs">67.500</text>
<rect x="1689" y="425" width="36" height="11" fill="#4169e1" shape-rendering="crispEdges"/>
<text class="w" x="1693" y="434" textLength="28" lengthAdjust="spacingAndGlyphs">64.000</text>
<text x="17.2" y="15" textLength="170" lengthAdjust="spacingAndGlyphs" xml:space="preserve">USOil-,H4  68.730 68.730 68.630 68.640</text>
<text x="5.6" y="535" textLength="129" lengthAdjust="spacingAndGlyphs">MACD(12,26,9) 0.7390 0.7246</text>
<text x="5.6" y="691" textLength="68.8" lengthAdjust="spacingAndGlyphs">RSI(14) 68.5648</text>
<text x="1.5" y="831" textLength="48.1" lengthAdjust="spacingAndGlyphs">13 Jul 2021</text>
<text x="65.5" y="831" textLength="50.7" lengthAdjust="spacingAndGlyphs">14 Jul 12:00</text>
<text x="129.5" y="831" textLength="50.7" lengthAdjust="spacingAndGlyphs">15 Jul 22:00</text>
<text x="193.5" y="831" textLength="50.7" lengthAdjust="spacingAndGlyphs">19 Jul 00:00</text>
<text x="257.5" y="831" textLength="50.7" lengthAdjust="spacingAndGlyphs">20 Jul 08:00</text>
<text x="321.5" y="831" textLength="50.7" lengthAdjust="spacingAndGlyphs">21 Jul 16:00</text>
<text x="385.5" y="831" textLength="50.7" lengthAdjust="spacingAndGlyphs">23 Jul 00:00</text>
<text x="449.5" y="831" textLength="50.7" lengthAdjust="spacingAndGlyphs">26 Jul 04:00</text>
<text x="513.5" y="831" textLength="50.7" lengthAdjust="spacingAndGlyphs">27 Jul 12:00</text>
<text x="577.5" y="831" textLength="50.7" lengthAdjust="spacingAndGlyphs">28 Jul 20:00</text>
<text x="641.5" y="831" textLength="50.7" lengthAdjust="spacingAndGlyphs">30 Jul 04:00</text>
<text x="705.5" y="831" textLength="49.6" lengthAdjust="spacingAndGlyphs">2 Aug 08:00</text>
<text x="769.5" y="831" textLength="49.6" lengthAdjust="spacingAndGlyphs">3 Aug 16:00</text>
<text x="833.5" y="831" textLength="49.6" lengthAdjust="spacingAndGlyphs">5 Aug 00:00</text>
<text x="897.5" y="831" textLength="49.6" lengthAdjust="spacingAndGlyphs">6 Aug 08:00</text>
<text x="961.5" y="831" textLength="49.6" lengthAdjust="spacingAndGlyphs">9 Aug 12:00</text>
<text x="1025.5" y="831" textLength="54.8" lengthAdjust="spacingAndGlyphs">10 Aug 20:00</text>
<text x="1089.5" y="831" textLength="54.8" lengthAdjust="spacingAndGlyphs">12 Aug 04:00</text>
<text x="1153.5" y="831" textLength="54.8" lengthAdjust="spacingAndGlyphs">13 Aug 12:00</text>
<text x="1217.5" y="831" textLength="54.8" lengthAdjust="spacingAndGlyphs">16 Aug 16:00</text>
<text x="1281.5" y="831" textLength="54.8" lengthAdjust="spacingAndGlyphs">18 Aug 00:00</text>
<text x="1345.5" y="831" textLength="54.8" lengthAdjust="spacingAndGlyphs">19 Aug 08:00</text>
<text x="1409.5" y="831" textLength="54.8" lengthAdjust="spacingAndGlyphs">20 Aug 16:00</text>
<text x="1473.5" y="831" textLength="54.8" lengthAdjust="spacingAndGlyphs">23 Aug 20:00</text>
<text x="1537.5" y="831" textLength="54.8" lengthAdjust="spacingAndGlyphs">25 Aug 04:00</text>
<text x="1601.5" y="831" textLength="54.8" lengthAdjust="spacingAndGlyphs">26 Aug 12:00</text>
<text x="1665.5" y="831" textLength="54.8" lengthAdjust="spacingAndGlyphs">27 Aug 20:00</text>
</svg></body></html>
